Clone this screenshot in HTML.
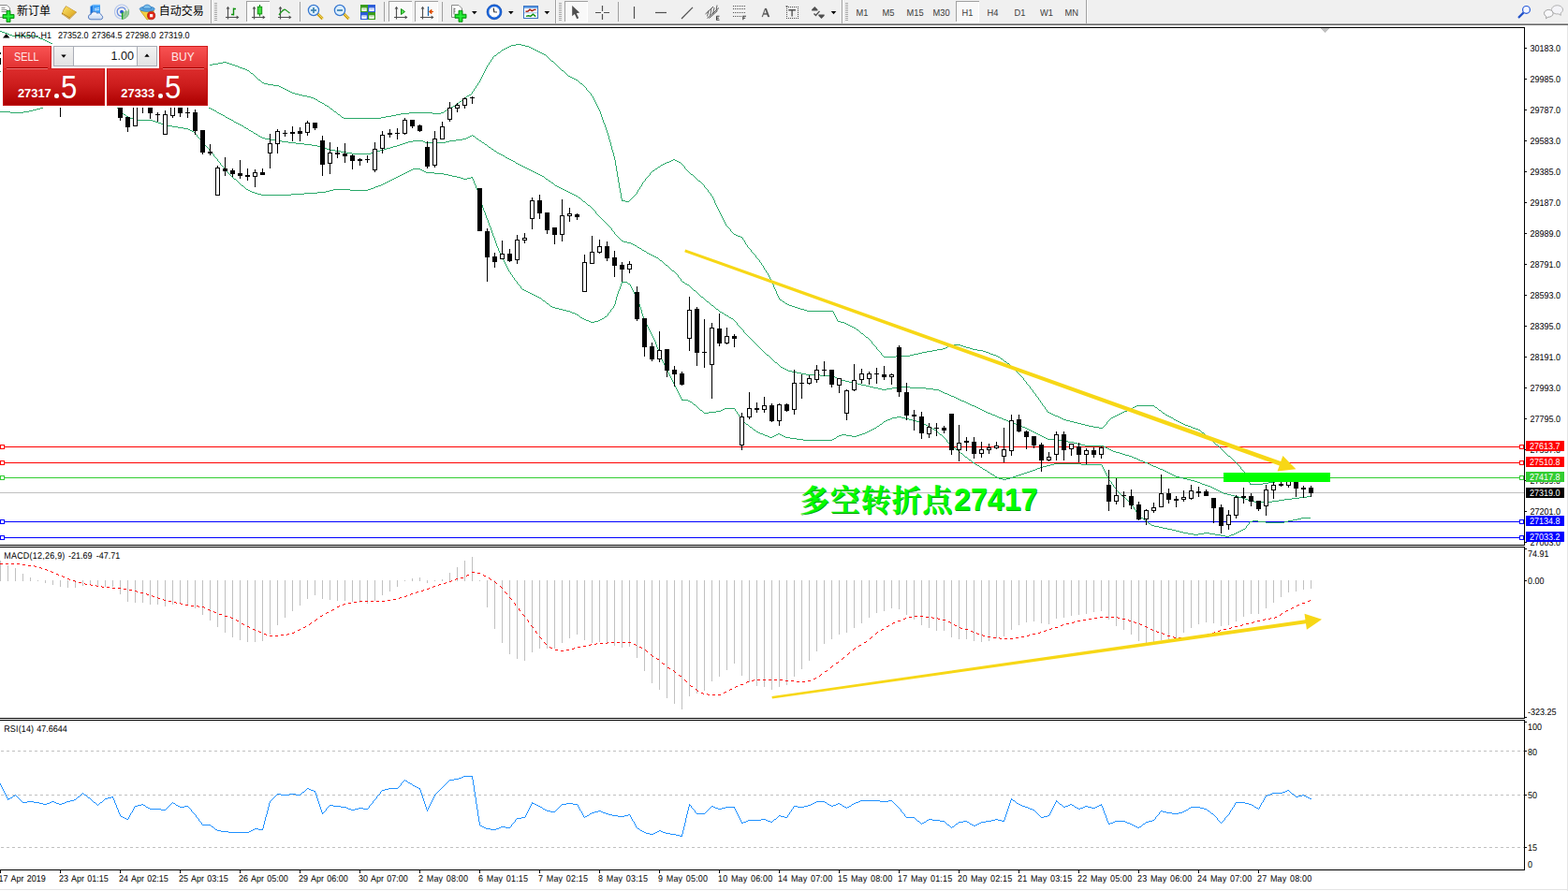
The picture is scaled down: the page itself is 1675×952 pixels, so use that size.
<!DOCTYPE html>
<html><head><meta charset="utf-8"><title>HK50 H1</title><style>
html,body{margin:0;padding:0}
body{width:1675px;height:952px;overflow:hidden;background:#fff;position:relative;font-family:"Liberation Sans",sans-serif;}
.t{position:absolute;white-space:nowrap;font-size:9px;line-height:11px;height:11px;color:#000;word-spacing:0.9px;transform:scaleY(1.1);transform-origin:0 50%;text-rendering:geometricPrecision}
.ax{left:1635px}
.ax2{left:1632px}
.tm{top:933px}
.pl{position:absolute;left:1630px;width:41px;height:11px;color:#fff;font-size:9px;line-height:11px;white-space:nowrap;}
.pl span{display:block;position:relative;top:1px;padding-left:4px;transform:scaleY(1.1);transform-origin:0 50%;text-rendering:geometricPrecision}
.per{position:absolute;top:7.3px;font-size:9.3px;line-height:14px;color:#3c3c3c;white-space:nowrap;transform:scaleY(1.1);transform-origin:0 50%;text-rendering:geometricPrecision}
#tbbg{position:absolute;left:0;top:0;width:1675px;height:25px;background:#f0f0f0}
#tbl0{position:absolute;left:0;top:24px;width:1675px;height:1px;background:#f4f4f4}
#tbl1{position:absolute;left:0;top:25px;width:1675px;height:1px;background:#a2a2a2}
#tbl2{position:absolute;left:0;top:26px;width:1675px;height:1px;background:#696969}
#redge{position:absolute;left:1674px;top:27px;width:1px;height:925px;background:#e6e6e6}
#bedge{position:absolute;left:0;top:950px;width:1675px;height:1px;background:#e4e4e4}
#panel{position:absolute;left:3px;top:49px;width:219px;height:64px;}
#panel div{position:absolute;box-sizing:border-box}
.tab{top:0;height:24px;width:52px;background:linear-gradient(#f85252,#e23232);border:1px solid #d01c1c;border-bottom:none;}
.tl{color:#ffe9e9;font-size:13.2px;line-height:16px;top:4px;transform-origin:0 0;transform:scaleX(0.82);white-space:nowrap}
.box{top:24px;height:40px;background:linear-gradient(#dc2c2c,#cc1c1c 45%,#ad0000);border:1px solid #c41010;border-top-color:#d42222}
.ul{height:2px;top:23px;background:linear-gradient(#a40000 50%,#f07878 50%)}
.sm{color:#fff;font-weight:bold;font-size:12.9px;line-height:12px;top:21px}
.bg{color:#fff;font-size:34.6px;line-height:30px;top:3px;transform-origin:0 0;transform:scaleX(0.9)}
.dot{width:4.6px;height:4.6px;border-radius:2.3px;background:#fff}
</style></head><body>
<div id="tbbg"></div><div id="tbl0"></div><div id="tbl1"></div><div id="tbl2"></div>
<svg id="tb" width="1675" height="27" viewBox="0 0 1675 27" style="position:absolute;left:0;top:0">
<path d="M-1 5.5H7.5L10.5 8.5V18.5H-1z" fill="#fff" stroke="#8c8c8c" stroke-width="1"/><path d="M1.5 8.5h4 M1.5 10.5h6 M1.5 12.5h6" stroke="#909090" stroke-width="1"/>
<path d="M7 11.5h4v4h4v4h-4v4h-4v-4h-4v-4h4z" fill="#10d020" stroke="#0a8a10" stroke-width="0.9"/><path d="M9 12.5v10 M4 17.5h10" stroke="#30f040" stroke-width="1.3"/>
<text x="18" y="15.8" font-size="12" fill="#000" font-family="'Liberation Sans','Noto Sans CJK SC',sans-serif">新订单</text>
<defs><linearGradient id="gbook" x1="0" y1="0" x2="1" y2="1"><stop offset="0" stop-color="#fde468"/><stop offset="1" stop-color="#d8a01c"/></linearGradient><linearGradient id="gcloud" x1="0" y1="0" x2="0" y2="1"><stop offset="0" stop-color="#ffffff"/><stop offset="1" stop-color="#c8d8f0"/></linearGradient></defs>
<path d="M70.5 6.3L82 13L74.2 20.8L65.9 15Q67.2 9.8 70.5 6.3z" fill="#a87010"/><path d="M70.8 6.7L81.2 12.8L74.5 18.7L66.7 13.9Q67.8 9.8 70.8 6.7z" fill="url(#gbook)"/><path d="M66.9 15.3L74.3 19.7L80.9 13.6" stroke="#f2dc90" stroke-width="0.7" fill="none"/>
<path d="M96.5 6.8L99.5 5.2V14.6L96.5 15.6z" fill="#1672dc"/><path d="M99.5 5.2H107V14.6H99.5z" fill="#3c9ef8"/><path d="M96.5 6.8L99.5 5.2H107" stroke="#7cc4ff" stroke-width="0.8" fill="none"/><path d="M101 9.4L106 8.6 M101 11L106 10.4" stroke="#d8ecff" stroke-width="0.9"/><path d="M97 20.8a2.7 2.7 0 0 1 0.2-5.4a3.5 3 0 0 1 6.6-1.2a3 2.8 0 0 1 4.4 2a2.4 2.4 0 0 1-0.5 4.6z" fill="url(#gcloud)" stroke="#4a74bc" stroke-width="0.9"/>
<path d="M136.6 8.8A7.6 7.6 0 1 0 130.3 20.2" fill="none" stroke="#b4c6ec" stroke-width="1.2"/><path d="M134.2 10.6A4.7 4.7 0 1 0 130.2 17.3" fill="none" stroke="#6a8ee0" stroke-width="1.3"/><path d="M130.3 12.8L137.7 11.2A7.8 7.8 0 0 1 130.5 20.6z" fill="#5cb45c" opacity="0.6"/><path d="M136.9 9.5A7.6 7.6 0 0 1 130.5 20.4 M134.4 11A4.7 4.7 0 0 1 130.5 17.5" fill="none" stroke="#78b884" stroke-width="1"/><circle cx="130" cy="12.7" r="1.9" fill="#2c58cc"/><path d="M130.6 13.2v7.4" stroke="#1ea41e" stroke-width="1.3"/>
<path d="M150 11.5h14.5l-4 8.5l-3.5 1z" fill="#f4d040" stroke="#c89a18" stroke-width="0.8"/><ellipse cx="157.2" cy="9.6" rx="8" ry="2.7" fill="#58a8e0" stroke="#2f78c0" stroke-width="0.8"/><path d="M152.8 9.3a4.4 4.2 0 0 1 8.8 0z" fill="#7cc0ec" stroke="#2f78c0" stroke-width="0.8"/><circle cx="161.6" cy="16.7" r="4.1" fill="#e02818" stroke="#a81808" stroke-width="0.7"/><rect x="160" y="15.1" width="3.2" height="3.2" fill="#fff"/>
<text x="169.8" y="15.8" font-size="12" fill="#000" font-family="'Liberation Sans','Noto Sans CJK SC',sans-serif">自动交易</text>
<rect x="225" y="0" width="1" height="25" fill="#a0a0a0"/><rect x="226" y="0" width="1" height="25" fill="#fff"/>
<rect x="229" y="3" width="3" height="1" fill="#a8a8a8"/><rect x="229" y="5" width="3" height="1" fill="#a8a8a8"/><rect x="229" y="7" width="3" height="1" fill="#a8a8a8"/><rect x="229" y="9" width="3" height="1" fill="#a8a8a8"/><rect x="229" y="11" width="3" height="1" fill="#a8a8a8"/><rect x="229" y="13" width="3" height="1" fill="#a8a8a8"/><rect x="229" y="15" width="3" height="1" fill="#a8a8a8"/><rect x="229" y="17" width="3" height="1" fill="#a8a8a8"/><rect x="229" y="19" width="3" height="1" fill="#a8a8a8"/><rect x="229" y="21" width="3" height="1" fill="#a8a8a8"/>
<path d="M243.5 20.5V8 M241 18.5H253.5" stroke="#505050" stroke-width="1.15" fill="none"/><path d="M243.5 6.8l-1.9 2.8h3.8z M255.5 18.5l-2.8-1.9v3.8z" fill="#505050"/>
<path d="M249.5 8.5v8 M249.5 9.5h2.5 M247 15.5h2.5" stroke="#109010" stroke-width="1.4" fill="none"/>
<rect x="263" y="1" width="25" height="23" fill="#f9f9f9"/><path d="M263.5 23V1.5H288" stroke="#a0a0a0" stroke-width="1" fill="none" shape-rendering="crispEdges"/><path d="M287.5 2V23.5H263" stroke="#fff" stroke-width="1" fill="none" shape-rendering="crispEdges"/>
<path d="M271.5 20.5V8 M269 18.5H281.5" stroke="#505050" stroke-width="1.15" fill="none"/><path d="M271.5 6.8l-1.9 2.8h3.8z M283.5 18.5l-2.8-1.9v3.8z" fill="#505050"/>
<path d="M277.5 5v12.5" stroke="#109010" stroke-width="1.2"/><rect x="275.3" y="7.3" width="4.4" height="7.6" fill="#40e040" stroke="#109010" stroke-width="1"/>
<path d="M299.5 20.5V8 M297 18.5H309.5" stroke="#505050" stroke-width="1.15" fill="none"/><path d="M299.5 6.8l-1.9 2.8h3.8z M311.5 18.5l-2.8-1.9v3.8z" fill="#505050"/>
<path d="M298 16q5-7 7-5.5t4.5 3.5" stroke="#209820" stroke-width="1.3" fill="none"/>
<rect x="320" y="2" width="1" height="21" fill="#a0a0a0"/>
<path d="M339 14.5l5.6 5.6" stroke="#cfa010" stroke-width="3"/>
<path d="M339.6 14.7l5.4 5.4" stroke="#f4e070" stroke-width="1"/>
<circle cx="335" cy="11" r="5.6" fill="#dcefff" stroke="#3878d0" stroke-width="1.3"/>
<path d="M332 11h6" stroke="#3a80b0" stroke-width="1.7"/>
<path d="M335 8v6" stroke="#3a80b0" stroke-width="1.7"/>
<path d="M367 14.5l5.6 5.6" stroke="#cfa010" stroke-width="3"/>
<path d="M367.6 14.7l5.4 5.4" stroke="#f4e070" stroke-width="1"/>
<circle cx="363" cy="11" r="5.6" fill="#dcefff" stroke="#3878d0" stroke-width="1.3"/>
<path d="M360 11h6" stroke="#3a80b0" stroke-width="1.7"/>
<rect x="385" y="5" width="8" height="8" fill="#3a9c1c"/><rect x="386.3" y="8.4" width="5.4" height="3.6" fill="#fff"/><rect x="387.3" y="9.4" width="3.4" height="0.9" fill="#3a9c1c" opacity="0.5"/>
<rect x="393" y="5" width="8" height="8" fill="#2c5cd8"/><rect x="394.3" y="8.4" width="5.4" height="3.6" fill="#fff"/><rect x="395.3" y="9.4" width="3.4" height="0.9" fill="#2c5cd8" opacity="0.5"/>
<rect x="385" y="13" width="8" height="8" fill="#2c5cd8"/><rect x="386.3" y="16.4" width="5.4" height="3.6" fill="#fff"/><rect x="387.3" y="17.4" width="3.4" height="0.9" fill="#2c5cd8" opacity="0.5"/>
<rect x="393" y="13" width="8" height="8" fill="#3a9c1c"/><rect x="394.3" y="16.4" width="5.4" height="3.6" fill="#fff"/><rect x="395.3" y="17.4" width="3.4" height="0.9" fill="#3a9c1c" opacity="0.5"/>
<rect x="410" y="2" width="1" height="21" fill="#a0a0a0"/>
<rect x="415" y="1" width="25" height="23" fill="#f9f9f9"/><path d="M415.5 23V1.5H440" stroke="#a0a0a0" stroke-width="1" fill="none" shape-rendering="crispEdges"/><path d="M439.5 2V23.5H415" stroke="#fff" stroke-width="1" fill="none" shape-rendering="crispEdges"/>
<path d="M423.5 20.5V8 M421 18.5H433.5" stroke="#505050" stroke-width="1.15" fill="none"/><path d="M423.5 6.8l-1.9 2.8h3.8z M435.5 18.5l-2.8-1.9v3.8z" fill="#505050"/>
<path d="M428.5 9.5v6l4-3z" fill="#50e050" stroke="#109010" stroke-width="1"/>
<rect x="443" y="1" width="25" height="23" fill="#f9f9f9"/><path d="M443.5 23V1.5H468" stroke="#a0a0a0" stroke-width="1" fill="none" shape-rendering="crispEdges"/><path d="M467.5 2V23.5H443" stroke="#fff" stroke-width="1" fill="none" shape-rendering="crispEdges"/>
<path d="M451.5 20.5V8 M449 18.5H461.5" stroke="#505050" stroke-width="1.15" fill="none"/><path d="M451.5 6.8l-1.9 2.8h3.8z M463.5 18.5l-2.8-1.9v3.8z" fill="#505050"/>
<path d="M457.5 7v10" stroke="#1868b0" stroke-width="1.3"/><path d="M463 12.5h-4 M461 10.3l-2.6 2.2l2.6 2.2z" stroke="#e05000" stroke-width="1" fill="#e05000"/>
<rect x="472" y="2" width="1" height="21" fill="#a0a0a0"/>
<path d="M482.5 5.5H490L493.5 9V18.5H482.5z" fill="#fff" stroke="#8c8c8c" stroke-width="1"/><path d="M485 8.5v7" stroke="#707070" stroke-width="1"/><path d="M485 9.5h1.5 M485 12h1.5" stroke="#707070"/>
<path d="M490 11.3h4v4h4v4h-4v4h-4v-4h-4v-4h4z" fill="#10d020" stroke="#0a8a10" stroke-width="0.9"/><path d="M492 12.3v10 M487 17.3h10" stroke="#30f040" stroke-width="1.3"/>
<path d="M504 12h5.6l-2.8 3.2z" fill="#000"/>
<circle cx="528" cy="12.8" r="6.9" fill="#fff" stroke="#1a66dc" stroke-width="2.4"/><circle cx="528" cy="12.8" r="8" fill="none" stroke="#0c3c98" stroke-width="0.5"/><path d="M527.2 8.6L527.8 12.8L531 13" stroke="#303030" stroke-width="1.2" fill="none"/><path d="M528 7v1 M528 17.6v1 M522.2 12.8h1 M532.8 12.8h1 M524 8.8l.7.7 M532 8.8l-.7.7 M524 16.8l.7-.7 M532 16.8l-.7-.7" stroke="#a0a8b8" stroke-width="0.8"/>
<path d="M543 12h5.6l-2.8 3.2z" fill="#000"/>
<rect x="559.5" y="6.5" width="15" height="13" fill="#fff" stroke="#3a74c4" stroke-width="1"/><rect x="560" y="7" width="14" height="1.8" fill="#5a9ae4"/><path d="M560 13.8h14" stroke="#8ab0e0" stroke-width="0.8"/><path d="M561.5 12.2l2.5-0.2l2-1.8l2.2 1.4l2.4-1.2h2" stroke="#a01808" stroke-width="1.4" fill="none"/><path d="M562 17.4l2.6-0.6l2.2 0.6l2.6-2.2l2.8 2.4" stroke="#109010" stroke-width="1.4" fill="none"/>
<path d="M581.5 12h5.6l-2.8 3.2z" fill="#000"/>
<rect x="593" y="0" width="1" height="25" fill="#a0a0a0"/><rect x="594" y="0" width="1" height="25" fill="#fff"/>
<rect x="597" y="3" width="3" height="1" fill="#a8a8a8"/><rect x="597" y="5" width="3" height="1" fill="#a8a8a8"/><rect x="597" y="7" width="3" height="1" fill="#a8a8a8"/><rect x="597" y="9" width="3" height="1" fill="#a8a8a8"/><rect x="597" y="11" width="3" height="1" fill="#a8a8a8"/><rect x="597" y="13" width="3" height="1" fill="#a8a8a8"/><rect x="597" y="15" width="3" height="1" fill="#a8a8a8"/><rect x="597" y="17" width="3" height="1" fill="#a8a8a8"/><rect x="597" y="19" width="3" height="1" fill="#a8a8a8"/><rect x="597" y="21" width="3" height="1" fill="#a8a8a8"/>
<rect x="603" y="1" width="25" height="23" fill="#f9f9f9"/><path d="M603.5 23V1.5H628" stroke="#a0a0a0" stroke-width="1" fill="none" shape-rendering="crispEdges"/><path d="M627.5 2V23.5H603" stroke="#fff" stroke-width="1" fill="none" shape-rendering="crispEdges"/>
<path d="M611.2 6V17.2L613.9 14.9L616.3 20.2L618.2 19.3L615.8 14.2L619.2 13.6z" fill="#505050"/>
<path d="M643.5 6v6 M643.5 15v6 M636 13.5h6 M645 13.5h6" stroke="#505050" stroke-width="1.2"/>
<rect x="660" y="2" width="1" height="21" fill="#a0a0a0"/>
<path d="M677.5 7v13" stroke="#505050" stroke-width="1.2"/>
<path d="M700 13.5h12" stroke="#505050" stroke-width="1.2"/>
<path d="M728 20L740 7.8" stroke="#505050" stroke-width="1.2"/>
<path d="M753.5 15L762 7 M755.5 19.5L768 8.5 M757.5 19.5L766.5 11.5" stroke="#505050" stroke-width="1" fill="none"/><path d="M757 11.5l-1.5 6 M760 9.5l-1.5 7 M763 8l-1.5 7 M766 5.5l-1 6" stroke="#505050" stroke-width="0.9"/><path d="M765.5 17.3v4h3 M765.5 17.3h3 M765.5 19.3h2.4" stroke="#404040" stroke-width="1.1" fill="none"/>
<path d="M783 6.5h13.5 M783 9.5h13.5 M783 13.5h13.5 M783 17.5h9" stroke="#505050" stroke-width="1" stroke-dasharray="1 1"/><path d="M793.8 21.3v-4h3.2 M793.8 19.3h2.4" stroke="#404040" stroke-width="1.1" fill="none"/>
<path d="M813.9 18L817.2 9h1.5L822 18h-1.7l-0.85-2.5h-3.9L814.7 18z M816 14.2h3l-1.5-4.2z" fill="#505050" fill-rule="evenodd" stroke="#505050" stroke-width="0.3"/>
<path d="M840 7h1v1h-1zM840 19h1v1h-1zM842 7h1v1h-1zM842 19h1v1h-1zM844 7h1v1h-1zM844 19h1v1h-1zM846 7h1v1h-1zM846 19h1v1h-1zM848 7h1v1h-1zM848 19h1v1h-1zM850 7h1v1h-1zM850 19h1v1h-1zM852 7h1v1h-1zM852 19h1v1h-1zM840 9h1v1h-1zM852 9h1v1h-1zM840 11h1v1h-1zM852 11h1v1h-1zM840 13h1v1h-1zM852 13h1v1h-1zM840 15h1v1h-1zM852 15h1v1h-1zM840 17h1v1h-1zM852 17h1v1h-1z" fill="#505050" shape-rendering="crispEdges"/>
<path d="M842.3 10.7h7.6 M846.1 10.7v6.9" stroke="#505050" stroke-width="1.35"/><rect x="839.5" y="6.2" width="2" height="1.2" fill="#505050"/>
<path d="M870.3 7l3.5 3.6h-7z M867.2 10.6h6.2v1h-6.2z" fill="#505050"/><path d="M869.5 14.5l2 2l4-4.6" stroke="#505050" stroke-width="1.4" fill="none"/><path d="M877.5 20l3.5-3.6h-7z M874.4 15.4h6.2v1h-6.2z" fill="#505050"/>
<path d="M887.7 12h5.6l-2.8 3.2z" fill="#000"/>
<rect x="899" y="0" width="1" height="25" fill="#a0a0a0"/><rect x="900" y="0" width="1" height="25" fill="#fff"/>
<rect x="903" y="3" width="3" height="1" fill="#a8a8a8"/><rect x="903" y="5" width="3" height="1" fill="#a8a8a8"/><rect x="903" y="7" width="3" height="1" fill="#a8a8a8"/><rect x="903" y="9" width="3" height="1" fill="#a8a8a8"/><rect x="903" y="11" width="3" height="1" fill="#a8a8a8"/><rect x="903" y="13" width="3" height="1" fill="#a8a8a8"/><rect x="903" y="15" width="3" height="1" fill="#a8a8a8"/><rect x="903" y="17" width="3" height="1" fill="#a8a8a8"/><rect x="903" y="19" width="3" height="1" fill="#a8a8a8"/><rect x="903" y="21" width="3" height="1" fill="#a8a8a8"/>
<rect x="1021" y="1" width="25" height="23" fill="#f9f9f9"/><path d="M1021.5 23V1.5H1046" stroke="#a0a0a0" stroke-width="1" fill="none" shape-rendering="crispEdges"/><path d="M1045.5 2V23.5H1021" stroke="#fff" stroke-width="1" fill="none" shape-rendering="crispEdges"/>
<rect x="1160" y="0" width="1" height="25" fill="#a0a0a0"/><rect x="1161" y="0" width="1" height="25" fill="#fff"/>
<path d="M1627.4 13.6L1622.6 18.4" stroke="#2352c8" stroke-width="2.2" stroke-linecap="round"/><circle cx="1630.5" cy="10.4" r="3.9" fill="#f4f6ff" stroke="#2458d8" stroke-width="1.2"/>
<path d="M1657.5 10.5a6 4.6 0 1 1 9.5 3.6l0.4 2.2l-2.6-1.4a6 4.6 0 0 1-7.3-4.4z" fill="#f4f4f8" stroke="#a8a8a8" stroke-width="0.9"/><path d="M1649.5 14.5a4.8 3.9 0 1 1 4.4 3.7l-2.4 1.6l0.3-2.2a4.8 3.9 0 0 1-2.3-3.1z" fill="#f8f8fa" stroke="#989898" stroke-width="0.9"/>
</svg>
<div class="per" style="left:914.5px">M1</div>
<div class="per" style="left:942.5px">M5</div>
<div class="per" style="left:968.5px">M15</div>
<div class="per" style="left:996.5px">M30</div>
<div class="per" style="left:1027.5px">H1</div>
<div class="per" style="left:1054.5px">H4</div>
<div class="per" style="left:1083.5px">D1</div>
<div class="per" style="left:1111px">W1</div>
<div class="per" style="left:1137.5px">MN</div>
<svg id="chart" width="1675" height="952" viewBox="0 0 1675 952" shape-rendering="crispEdges" style="position:absolute;left:0;top:0">
<rect x="0" y="477" width="1628" height="1" fill="#ff0000"/>
<rect x="0" y="494" width="1628" height="1" fill="#ff0000"/>
<rect x="0" y="510" width="1628" height="1" fill="#32cd32"/>
<rect x="0" y="526" width="1628" height="1" fill="#c0c0c0"/>
<rect x="0" y="557" width="1628" height="1" fill="#0000ff"/>
<rect x="0" y="574" width="1628" height="1" fill="#0000ff"/>
<rect x="0" y="475" width="5" height="5" fill="#ff0000"/><rect x="1" y="476" width="3" height="3" fill="#fff"/>
<rect x="1623" y="475" width="5" height="5" fill="#ff0000"/><rect x="1624" y="476" width="3" height="3" fill="#fff"/>
<rect x="0" y="492" width="5" height="5" fill="#ff0000"/><rect x="1" y="493" width="3" height="3" fill="#fff"/>
<rect x="1623" y="492" width="5" height="5" fill="#ff0000"/><rect x="1624" y="493" width="3" height="3" fill="#fff"/>
<rect x="0" y="508" width="5" height="5" fill="#32cd32"/><rect x="1" y="509" width="3" height="3" fill="#fff"/>
<rect x="1623" y="508" width="5" height="5" fill="#32cd32"/><rect x="1624" y="509" width="3" height="3" fill="#fff"/>
<rect x="0" y="555" width="5" height="5" fill="#0000ff"/><rect x="1" y="556" width="3" height="3" fill="#fff"/>
<rect x="1623" y="555" width="5" height="5" fill="#0000ff"/><rect x="1624" y="556" width="3" height="3" fill="#fff"/>
<rect x="0" y="572" width="5" height="5" fill="#0000ff"/><rect x="1" y="573" width="3" height="3" fill="#fff"/>
<rect x="1623" y="572" width="5" height="5" fill="#0000ff"/><rect x="1624" y="573" width="3" height="3" fill="#fff"/>
<path stroke="#c0c0c0" stroke-width="1" stroke-dasharray="3 3" d="M1 802.5 H1628"/>
<path stroke="#c0c0c0" stroke-width="1" stroke-dasharray="3 3" d="M1 849.5 H1628"/>
<path stroke="#c0c0c0" stroke-width="1" stroke-dasharray="3 3" d="M1 905.5 H1628"/>
<path fill="#28a868" d="M0 33h2v1h-2zM2 34h3v1h-3zM5 35h3v1h-3zM8 36h2v1h-2zM10 37h3v1h-3zM13 38h25v1h-25zM38 39h3v1h-3zM41 40h2v1h-2zM43 41h3v1h-3zM46 42h2v1h-2zM48 43h2v1h-2zM50 44h2v1h-2zM52 45h2v1h-2zM54 46h2v1h-2zM56 47h1v1h-1zM551 47h6v1h-6zM57 48h1v2h-1zM546 48h5v1h-5zM557 48h4v1h-4zM544 49h2v1h-2zM561 49h4v1h-4zM58 50h4v1h-4zM542 50h2v1h-2zM565 50h2v1h-2zM62 51h7v1h-7zM540 51h2v1h-2zM567 51h2v1h-2zM69 52h7v1h-7zM538 52h2v1h-2zM569 52h2v1h-2zM76 53h7v1h-7zM536 53h2v1h-2zM571 53h2v1h-2zM83 54h7v1h-7zM535 54h1v1h-1zM573 54h2v1h-2zM90 55h7v1h-7zM534 55h1v1h-1zM575 55h2v1h-2zM97 56h10v1h-10zM532 56h2v1h-2zM577 56h2v1h-2zM107 57h12v1h-12zM531 57h1v1h-1zM579 57h2v1h-2zM119 58h13v1h-13zM530 58h1v1h-1zM581 58h2v1h-2zM132 59h12v1h-12zM528 59h2v1h-2zM583 59h1v1h-1zM144 60h11v1h-11zM527 60h1v1h-1zM584 60h1v1h-1zM155 61h8v1h-8zM526 61h1v2h-1zM585 61h1v1h-1zM163 62h8v1h-8zM586 62h1v1h-1zM171 63h9v1h-9zM525 63h1v1h-1zM587 63h1v1h-1zM180 64h8v1h-8zM524 64h1v2h-1zM588 64h1v1h-1zM188 65h8v1h-8zM589 65h2v1h-2zM196 66h8v1h-8zM238 66h4v1h-4zM523 66h1v1h-1zM591 66h1v1h-1zM204 67h8v1h-8zM233 67h5v1h-5zM242 67h3v1h-3zM522 67h1v2h-1zM592 67h1v1h-1zM212 68h8v1h-8zM227 68h6v1h-6zM245 68h3v1h-3zM593 68h1v1h-1zM220 69h7v1h-7zM248 69h3v1h-3zM521 69h1v1h-1zM594 69h1v1h-1zM251 70h3v1h-3zM520 70h1v2h-1zM595 70h1v1h-1zM254 71h2v1h-2zM596 71h1v1h-1zM256 72h3v1h-3zM519 72h1v2h-1zM597 72h1v1h-1zM259 73h3v1h-3zM598 73h1v1h-1zM262 74h2v1h-2zM518 74h1v2h-1zM599 74h1v1h-1zM264 75h2v1h-2zM600 75h2v1h-2zM266 76h1v1h-1zM517 76h1v2h-1zM602 76h1v1h-1zM267 77h1v1h-1zM603 77h1v1h-1zM268 78h2v1h-2zM516 78h1v2h-1zM604 78h1v1h-1zM270 79h1v1h-1zM605 79h1v1h-1zM271 80h1v1h-1zM515 80h1v2h-1zM606 80h1v1h-1zM272 81h1v1h-1zM607 81h2v1h-2zM273 82h1v1h-1zM514 82h1v2h-1zM609 82h2v1h-2zM274 83h1v1h-1zM611 83h2v1h-2zM275 84h1v1h-1zM513 84h1v2h-1zM613 84h2v1h-2zM276 85h2v1h-2zM615 85h2v1h-2zM278 86h1v1h-1zM512 86h1v2h-1zM617 86h1v1h-1zM279 87h1v1h-1zM618 87h1v1h-1zM280 88h2v1h-2zM511 88h1v1h-1zM619 88h1v1h-1zM282 89h4v1h-4zM510 89h1v2h-1zM620 89h2v1h-2zM286 90h6v1h-6zM622 90h1v1h-1zM292 91h6v1h-6zM509 91h1v1h-1zM623 91h1v1h-1zM298 92h2v1h-2zM508 92h1v2h-1zM624 92h1v1h-1zM300 93h2v1h-2zM625 93h1v1h-1zM302 94h2v1h-2zM507 94h1v1h-1zM626 94h1v2h-1zM304 95h2v1h-2zM506 95h1v2h-1zM306 96h2v1h-2zM627 96h1v1h-1zM308 97h2v1h-2zM505 97h1v1h-1zM628 97h1v1h-1zM310 98h2v1h-2zM504 98h1v2h-1zM629 98h1v1h-1zM312 99h3v1h-3zM630 99h1v1h-1zM315 100h4v1h-4zM503 100h1v1h-1zM631 100h1v2h-1zM319 101h4v1h-4zM501 101h2v1h-2zM323 102h5v1h-5zM499 102h2v1h-2zM632 102h1v1h-1zM328 103h4v1h-4zM498 103h1v1h-1zM633 103h1v2h-1zM332 104h3v1h-3zM497 104h1v1h-1zM335 105h2v1h-2zM495 105h2v1h-2zM634 105h1v2h-1zM337 106h2v1h-2zM494 106h1v1h-1zM339 107h1v1h-1zM493 107h1v1h-1zM635 107h1v2h-1zM340 108h2v1h-2zM491 108h2v1h-2zM342 109h2v1h-2zM490 109h1v1h-1zM636 109h1v2h-1zM344 110h2v1h-2zM488 110h2v1h-2zM346 111h1v1h-1zM487 111h1v1h-1zM637 111h1v2h-1zM347 112h2v1h-2zM486 112h1v1h-1zM349 113h2v1h-2zM484 113h2v1h-2zM638 113h1v2h-1zM351 114h1v1h-1zM482 114h2v1h-2zM352 115h1v1h-1zM480 115h2v1h-2zM639 115h1v2h-1zM353 116h2v1h-2zM478 116h2v1h-2zM355 117h1v1h-1zM477 117h1v1h-1zM640 117h1v2h-1zM356 118h1v1h-1zM475 118h2v1h-2zM357 119h2v1h-2zM474 119h1v1h-1zM641 119h1v3h-1zM359 120h1v1h-1zM437 120h25v1h-25zM471 120h3v1h-3zM360 121h1v1h-1zM428 121h9v1h-9zM462 121h9v1h-9zM361 122h2v1h-2zM423 122h5v1h-5zM642 122h1v3h-1zM363 123h1v1h-1zM418 123h5v1h-5zM364 124h1v1h-1zM412 124h6v1h-6zM365 125h2v1h-2zM407 125h5v1h-5zM643 125h1v3h-1zM367 126h40v1h-40zM644 128h1v3h-1zM645 131h1v2h-1zM646 133h1v3h-1zM647 136h1v3h-1zM648 139h1v3h-1zM649 142h1v3h-1zM650 145h1v4h-1zM651 149h1v3h-1zM652 152h1v4h-1zM653 156h1v4h-1zM654 160h1v3h-1zM655 163h1v4h-1zM656 167h1v4h-1zM719 170h2v1h-2zM657 171h1v6h-1zM717 171h2v1h-2zM721 171h2v1h-2zM715 172h2v1h-2zM723 172h2v1h-2zM712 173h3v1h-3zM725 173h2v1h-2zM710 174h2v1h-2zM727 174h1v1h-1zM708 175h2v1h-2zM728 175h1v1h-1zM706 176h2v1h-2zM729 176h1v1h-1zM658 177h1v6h-1zM705 177h1v1h-1zM730 177h1v1h-1zM703 178h2v1h-2zM731 178h1v2h-1zM702 179h1v1h-1zM700 180h2v1h-2zM732 180h1v1h-1zM699 181h1v1h-1zM733 181h1v1h-1zM697 182h2v1h-2zM734 182h1v1h-1zM659 183h1v6h-1zM696 183h1v1h-1zM735 183h1v1h-1zM695 184h1v1h-1zM736 184h1v1h-1zM694 185h1v2h-1zM737 185h1v1h-1zM738 186h2v1h-2zM693 187h1v1h-1zM740 187h1v1h-1zM692 188h1v1h-1zM741 188h1v1h-1zM660 189h1v6h-1zM691 189h1v1h-1zM742 189h1v1h-1zM690 190h1v1h-1zM743 190h1v1h-1zM689 191h1v2h-1zM744 191h1v1h-1zM745 192h1v1h-1zM688 193h1v1h-1zM746 193h2v1h-2zM687 194h1v1h-1zM748 194h1v1h-1zM661 195h1v6h-1zM686 195h1v2h-1zM749 195h1v1h-1zM750 196h1v1h-1zM685 197h1v2h-1zM751 197h1v1h-1zM752 198h1v2h-1zM684 199h1v1h-1zM683 200h1v2h-1zM753 200h1v1h-1zM662 201h1v5h-1zM754 201h1v1h-1zM682 202h1v1h-1zM755 202h1v1h-1zM681 203h1v2h-1zM756 203h1v2h-1zM680 205h1v2h-1zM757 205h1v1h-1zM663 206h1v6h-1zM758 206h1v1h-1zM679 207h1v1h-1zM759 207h1v2h-1zM678 208h1v1h-1zM677 209h1v1h-1zM760 209h1v1h-1zM676 210h1v1h-1zM761 210h1v2h-1zM675 211h1v1h-1zM664 212h1v3h-1zM674 212h1v1h-1zM762 212h1v2h-1zM673 213h1v1h-1zM665 214h3v1h-3zM672 214h1v1h-1zM763 214h1v3h-1zM668 215h4v1h-4zM764 217h1v2h-1zM765 219h1v2h-1zM766 221h1v2h-1zM767 223h1v2h-1zM768 225h1v2h-1zM769 227h1v2h-1zM770 229h1v2h-1zM771 231h1v2h-1zM772 233h1v2h-1zM773 235h1v2h-1zM774 237h1v2h-1zM775 239h1v2h-1zM776 241h1v1h-1zM777 242h1v1h-1zM778 243h1v1h-1zM779 244h1v1h-1zM780 245h1v2h-1zM781 247h1v1h-1zM782 248h1v1h-1zM783 249h1v1h-1zM784 250h2v1h-2zM786 251h2v1h-2zM788 252h3v1h-3zM791 253h2v1h-2zM793 254h1v2h-1zM794 256h1v1h-1zM795 257h1v2h-1zM796 259h1v2h-1zM797 261h1v1h-1zM798 262h1v2h-1zM799 264h1v1h-1zM800 265h1v1h-1zM801 266h1v1h-1zM802 267h1v2h-1zM803 269h1v1h-1zM804 270h1v1h-1zM805 271h1v1h-1zM806 272h1v1h-1zM807 273h1v2h-1zM808 275h1v1h-1zM809 276h1v1h-1zM810 277h1v1h-1zM811 278h1v2h-1zM812 280h1v1h-1zM813 281h1v2h-1zM814 283h1v1h-1zM815 284h1v2h-1zM816 286h1v2h-1zM817 288h1v1h-1zM818 289h1v2h-1zM819 291h1v1h-1zM820 292h1v2h-1zM821 294h1v2h-1zM822 296h1v2h-1zM823 298h1v2h-1zM824 300h1v2h-1zM825 302h1v2h-1zM826 304h1v3h-1zM827 307h1v2h-1zM828 309h1v2h-1zM829 311h1v3h-1zM830 314h1v2h-1zM831 316h1v2h-1zM832 318h1v2h-1zM833 320h2v1h-2zM835 321h1v1h-1zM836 322h2v1h-2zM838 323h1v1h-1zM839 324h2v1h-2zM841 325h2v1h-2zM843 326h3v1h-3zM846 327h3v1h-3zM849 328h3v1h-3zM852 329h3v1h-3zM855 330h4v1h-4zM859 331h3v1h-3zM862 332h28v1h-28zM890 333h1v2h-1zM891 335h1v2h-1zM892 337h1v2h-1zM893 339h1v2h-1zM894 341h1v2h-1zM895 343h3v1h-3zM898 344h4v1h-4zM902 345h2v1h-2zM904 346h2v1h-2zM906 347h2v1h-2zM908 348h2v1h-2zM910 349h2v1h-2zM912 350h2v1h-2zM914 351h1v1h-1zM915 352h2v1h-2zM917 353h1v1h-1zM918 354h1v1h-1zM919 355h1v1h-1zM920 356h2v1h-2zM922 357h1v1h-1zM923 358h1v1h-1zM924 359h1v1h-1zM925 360h2v1h-2zM927 361h1v1h-1zM928 362h1v1h-1zM929 363h1v1h-1zM930 364h1v1h-1zM931 365h1v2h-1zM932 367h1v1h-1zM933 368h1v1h-1zM1019 368h7v1h-7zM934 369h1v1h-1zM1013 369h6v1h-6zM1026 369h3v1h-3zM935 370h1v1h-1zM1012 370h1v1h-1zM1029 370h3v1h-3zM936 371h1v2h-1zM1010 371h2v1h-2zM1032 371h4v1h-4zM1007 372h3v1h-3zM1036 372h3v1h-3zM937 373h1v1h-1zM1001 373h6v1h-6zM1039 373h5v1h-5zM938 374h1v1h-1zM996 374h5v1h-5zM1044 374h6v1h-6zM939 375h1v1h-1zM990 375h6v1h-6zM1050 375h3v1h-3zM940 376h1v1h-1zM985 376h5v1h-5zM1053 376h3v1h-3zM941 377h1v2h-1zM981 377h4v1h-4zM1056 377h2v1h-2zM976 378h5v1h-5zM1058 378h3v1h-3zM942 379h1v1h-1zM972 379h4v1h-4zM1061 379h3v1h-3zM943 380h1v1h-1zM957 380h15v1h-15zM1064 380h2v1h-2zM944 381h13v1h-13zM1066 381h2v1h-2zM1068 382h1v1h-1zM1069 383h2v1h-2zM1071 384h1v1h-1zM1072 385h1v1h-1zM1073 386h2v1h-2zM1075 387h1v1h-1zM1076 388h2v1h-2zM1078 389h1v1h-1zM1079 390h1v1h-1zM1080 391h1v1h-1zM1081 392h1v1h-1zM1082 393h1v1h-1zM1083 394h1v1h-1zM1084 395h1v1h-1zM1085 396h1v1h-1zM1086 397h1v1h-1zM1087 398h1v1h-1zM1088 399h1v1h-1zM1089 400h1v1h-1zM1090 401h1v1h-1zM1091 402h1v1h-1zM1092 403h1v1h-1zM1093 404h1v2h-1zM1094 406h1v1h-1zM1095 407h1v1h-1zM1096 408h1v2h-1zM1097 410h1v1h-1zM1098 411h1v1h-1zM1099 412h1v1h-1zM1100 413h1v2h-1zM1101 415h1v1h-1zM1102 416h1v1h-1zM1103 417h1v2h-1zM1104 419h1v1h-1zM1105 420h1v1h-1zM1106 421h1v2h-1zM1107 423h1v1h-1zM1108 424h1v1h-1zM1109 425h1v2h-1zM1110 427h1v1h-1zM1111 428h1v2h-1zM1112 430h1v1h-1zM1113 431h1v2h-1zM1114 433h1v1h-1zM1214 433h19v1h-19zM1115 434h1v1h-1zM1212 434h2v1h-2zM1233 434h1v1h-1zM1116 435h1v2h-1zM1210 435h2v1h-2zM1234 435h2v1h-2zM1208 436h2v1h-2zM1236 436h1v1h-1zM1117 437h1v1h-1zM1206 437h2v1h-2zM1237 437h1v1h-1zM1118 438h1v2h-1zM1204 438h2v1h-2zM1238 438h2v1h-2zM1201 439h3v1h-3zM1240 439h1v1h-1zM1119 440h2v1h-2zM1199 440h2v1h-2zM1241 440h1v1h-1zM1121 441h2v1h-2zM1197 441h2v1h-2zM1242 441h2v1h-2zM1123 442h2v1h-2zM1195 442h2v1h-2zM1244 442h1v1h-1zM1125 443h2v1h-2zM1193 443h2v1h-2zM1245 443h2v1h-2zM1127 444h3v1h-3zM1191 444h2v1h-2zM1247 444h2v1h-2zM1130 445h2v1h-2zM1189 445h2v1h-2zM1249 445h2v1h-2zM1132 446h2v1h-2zM1187 446h2v1h-2zM1251 446h2v1h-2zM1134 447h2v1h-2zM1186 447h1v1h-1zM1253 447h1v1h-1zM1136 448h3v1h-3zM1185 448h1v1h-1zM1254 448h2v1h-2zM1139 449h4v1h-4zM1184 449h1v1h-1zM1256 449h2v1h-2zM1143 450h4v1h-4zM1183 450h1v1h-1zM1258 450h2v1h-2zM1147 451h4v1h-4zM1182 451h1v2h-1zM1260 451h2v1h-2zM1151 452h4v1h-4zM1262 452h2v1h-2zM1155 453h4v1h-4zM1181 453h1v1h-1zM1264 453h2v1h-2zM1159 454h4v1h-4zM1180 454h1v1h-1zM1266 454h3v1h-3zM1163 455h5v1h-5zM1179 455h1v1h-1zM1269 455h3v1h-3zM1168 456h6v1h-6zM1178 456h1v1h-1zM1272 456h2v1h-2zM1174 457h4v1h-4zM1274 457h3v1h-3zM1277 458h3v1h-3zM1280 459h2v1h-2zM1282 460h1v1h-1zM1283 461h1v1h-1zM1284 462h2v1h-2zM1286 463h1v1h-1zM1287 464h1v1h-1zM1288 465h1v1h-1zM1289 466h1v1h-1zM1290 467h2v1h-2zM1292 468h1v1h-1zM1293 469h1v1h-1zM1294 470h1v1h-1zM1295 471h1v1h-1zM1296 472h1v1h-1zM1297 473h1v1h-1zM1298 474h1v1h-1zM1299 475h2v1h-2zM1301 476h1v1h-1zM1302 477h1v1h-1zM1303 478h1v1h-1zM1304 479h1v1h-1zM1305 480h1v1h-1zM1306 481h1v1h-1zM1307 482h1v1h-1zM1308 483h1v1h-1zM1309 484h1v1h-1zM1310 485h1v1h-1zM1311 486h1v1h-1zM1312 487h2v1h-2zM1314 488h1v1h-1zM1315 489h1v1h-1zM1316 490h1v1h-1zM1317 491h1v1h-1zM1318 492h1v1h-1zM1319 493h1v1h-1zM1320 494h1v1h-1zM1321 495h1v1h-1zM1322 496h1v1h-1zM1323 497h1v1h-1zM1324 498h1v1h-1zM1325 499h1v2h-1zM1326 501h1v1h-1zM1327 502h1v1h-1zM1328 503h1v1h-1zM1329 504h1v2h-1zM1330 506h1v2h-1zM1331 508h1v2h-1zM1332 510h1v2h-1zM1393 511h8v1h-8zM1333 512h1v2h-1zM1378 512h15v1h-15zM1368 513h10v1h-10zM1334 514h1v2h-1zM1362 514h6v1h-6zM1355 515h7v1h-7zM1335 516h1v2h-1zM1349 516h6v1h-6zM1336 517h13v1h-13z"/>
<path fill="#28a868" d="M0 76h4v1h-4zM4 77h8v1h-8zM12 78h7v1h-7zM19 79h8v1h-8zM27 80h7v1h-7zM34 81h8v1h-8zM42 82h7v1h-7zM49 83h8v1h-8zM57 84h8v1h-8zM65 85h8v1h-8zM73 86h9v1h-9zM82 87h8v1h-8zM90 88h9v1h-9zM99 89h8v1h-8zM107 90h9v1h-9zM116 91h8v1h-8zM124 92h8v1h-8zM132 93h6v1h-6zM138 94h7v1h-7zM145 95h6v1h-6zM151 96h7v1h-7zM158 97h6v1h-6zM164 98h7v1h-7zM171 99h6v1h-6zM177 100h5v1h-5zM182 101h3v1h-3zM185 102h3v1h-3zM188 103h3v1h-3zM191 104h3v1h-3zM194 105h3v1h-3zM197 106h3v1h-3zM200 107h2v1h-2zM202 108h3v1h-3zM205 109h3v1h-3zM208 110h3v1h-3zM211 111h3v1h-3zM214 112h3v1h-3zM217 113h3v1h-3zM220 114h3v1h-3zM223 115h2v1h-2zM225 116h2v1h-2zM227 117h2v1h-2zM229 118h2v1h-2zM231 119h1v1h-1zM232 120h2v1h-2zM234 121h2v1h-2zM236 122h2v1h-2zM238 123h2v1h-2zM240 124h1v1h-1zM241 125h2v1h-2zM243 126h2v1h-2zM245 127h2v1h-2zM247 128h2v1h-2zM249 129h1v1h-1zM250 130h2v1h-2zM252 131h2v1h-2zM254 132h2v1h-2zM256 133h2v1h-2zM258 134h2v1h-2zM260 135h1v1h-1zM261 136h2v1h-2zM263 137h2v1h-2zM265 138h1v1h-1zM266 139h2v1h-2zM268 140h2v1h-2zM270 141h1v1h-1zM271 142h2v1h-2zM273 143h2v1h-2zM275 144h1v1h-1zM504 144h1v1h-1zM276 145h2v1h-2zM502 145h2v1h-2zM505 145h2v1h-2zM278 146h2v1h-2zM500 146h2v1h-2zM507 146h1v1h-1zM280 147h3v1h-3zM498 147h2v1h-2zM508 147h1v1h-1zM283 148h6v1h-6zM494 148h4v1h-4zM509 148h2v1h-2zM289 149h6v1h-6zM487 149h7v1h-7zM511 149h1v1h-1zM295 150h6v1h-6zM441 150h11v1h-11zM480 150h7v1h-7zM512 150h2v1h-2zM301 151h7v1h-7zM436 151h5v1h-5zM452 151h2v1h-2zM476 151h4v1h-4zM514 151h1v1h-1zM308 152h8v1h-8zM433 152h3v1h-3zM454 152h22v1h-22zM515 152h2v1h-2zM316 153h9v1h-9zM430 153h3v1h-3zM517 153h1v1h-1zM325 154h8v1h-8zM427 154h3v1h-3zM518 154h2v1h-2zM333 155h6v1h-6zM424 155h3v1h-3zM520 155h1v1h-1zM339 156h4v1h-4zM420 156h4v1h-4zM521 156h1v1h-1zM343 157h3v1h-3zM417 157h3v1h-3zM522 157h2v1h-2zM346 158h3v1h-3zM413 158h4v1h-4zM524 158h1v1h-1zM349 159h4v1h-4zM410 159h3v1h-3zM525 159h2v1h-2zM353 160h5v1h-5zM406 160h4v1h-4zM527 160h1v1h-1zM358 161h6v1h-6zM403 161h3v1h-3zM528 161h2v1h-2zM364 162h6v1h-6zM400 162h3v1h-3zM530 162h1v1h-1zM370 163h6v1h-6zM396 163h4v1h-4zM531 163h2v1h-2zM376 164h20v1h-20zM533 164h2v1h-2zM535 165h2v1h-2zM537 166h2v1h-2zM539 167h1v1h-1zM540 168h2v1h-2zM542 169h2v1h-2zM544 170h2v1h-2zM546 171h2v1h-2zM548 172h2v1h-2zM550 173h1v1h-1zM551 174h2v1h-2zM553 175h2v1h-2zM555 176h2v1h-2zM557 177h2v1h-2zM559 178h2v1h-2zM561 179h2v1h-2zM563 180h2v1h-2zM565 181h2v1h-2zM567 182h2v1h-2zM569 183h2v1h-2zM571 184h2v1h-2zM573 185h2v1h-2zM575 186h2v1h-2zM577 187h2v1h-2zM579 188h2v1h-2zM581 189h1v1h-1zM582 190h1v1h-1zM583 191h2v1h-2zM585 192h1v1h-1zM586 193h2v1h-2zM588 194h1v1h-1zM589 195h2v1h-2zM591 196h1v1h-1zM592 197h1v1h-1zM593 198h2v1h-2zM595 199h2v1h-2zM597 200h2v1h-2zM599 201h2v1h-2zM601 202h2v1h-2zM603 203h2v1h-2zM605 204h2v1h-2zM607 205h2v1h-2zM609 206h2v1h-2zM611 207h2v1h-2zM613 208h2v1h-2zM615 209h2v1h-2zM617 210h1v1h-1zM618 211h2v1h-2zM620 212h1v1h-1zM621 213h1v1h-1zM622 214h1v1h-1zM623 215h2v1h-2zM625 216h1v1h-1zM626 217h1v1h-1zM627 218h1v1h-1zM628 219h2v1h-2zM630 220h1v1h-1zM631 221h1v1h-1zM632 222h1v1h-1zM633 223h1v1h-1zM634 224h1v1h-1zM635 225h1v1h-1zM636 226h1v2h-1zM637 228h1v1h-1zM638 229h1v1h-1zM639 230h1v1h-1zM640 231h1v1h-1zM641 232h1v1h-1zM642 233h1v1h-1zM643 234h1v1h-1zM644 235h1v1h-1zM645 236h1v1h-1zM646 237h1v1h-1zM647 238h1v1h-1zM648 239h1v1h-1zM649 240h1v1h-1zM650 241h1v1h-1zM651 242h1v1h-1zM652 243h1v1h-1zM653 244h1v2h-1zM654 246h1v1h-1zM655 247h1v1h-1zM656 248h1v2h-1zM657 250h1v1h-1zM658 251h1v1h-1zM659 252h1v1h-1zM660 253h1v1h-1zM661 254h1v1h-1zM662 255h1v1h-1zM663 256h1v1h-1zM664 257h2v1h-2zM666 258h4v1h-4zM670 259h4v1h-4zM674 260h2v1h-2zM676 261h2v1h-2zM678 262h2v1h-2zM680 263h1v1h-1zM681 264h2v1h-2zM683 265h2v1h-2zM685 266h1v1h-1zM686 267h2v1h-2zM688 268h2v1h-2zM690 269h1v1h-1zM691 270h2v1h-2zM693 271h2v1h-2zM695 272h2v1h-2zM697 273h2v1h-2zM699 274h2v1h-2zM701 275h2v1h-2zM703 276h1v1h-1zM704 277h1v1h-1zM705 278h2v1h-2zM707 279h1v1h-1zM708 280h1v1h-1zM709 281h1v1h-1zM710 282h1v1h-1zM711 283h2v1h-2zM713 284h1v1h-1zM714 285h1v1h-1zM715 286h1v1h-1zM716 287h1v1h-1zM717 288h1v1h-1zM718 289h2v1h-2zM720 290h1v1h-1zM721 291h1v1h-1zM722 292h1v1h-1zM723 293h1v1h-1zM724 294h1v2h-1zM725 296h1v1h-1zM726 297h1v1h-1zM727 298h1v2h-1zM728 300h1v1h-1zM729 301h2v1h-2zM731 302h1v1h-1zM732 303h2v1h-2zM734 304h2v1h-2zM736 305h1v1h-1zM737 306h1v1h-1zM738 307h1v1h-1zM739 308h1v1h-1zM740 309h1v1h-1zM741 310h2v1h-2zM743 311h1v1h-1zM744 312h1v1h-1zM745 313h1v1h-1zM746 314h1v1h-1zM747 315h1v1h-1zM748 316h1v1h-1zM749 317h2v1h-2zM751 318h1v1h-1zM752 319h1v1h-1zM753 320h1v1h-1zM754 321h1v1h-1zM755 322h2v1h-2zM757 323h1v1h-1zM758 324h1v1h-1zM759 325h1v1h-1zM760 326h2v1h-2zM762 327h1v1h-1zM763 328h1v1h-1zM764 329h1v1h-1zM765 330h2v1h-2zM767 331h1v1h-1zM768 332h1v1h-1zM769 333h2v1h-2zM771 334h2v1h-2zM773 335h1v1h-1zM774 336h2v1h-2zM776 337h2v1h-2zM778 338h1v1h-1zM779 339h2v1h-2zM781 340h2v1h-2zM783 341h1v1h-1zM784 342h1v1h-1zM785 343h1v1h-1zM786 344h1v1h-1zM787 345h1v2h-1zM788 347h1v1h-1zM789 348h1v1h-1zM790 349h1v1h-1zM791 350h1v1h-1zM792 351h1v1h-1zM793 352h1v1h-1zM794 353h1v2h-1zM795 355h1v1h-1zM796 356h1v1h-1zM797 357h1v1h-1zM798 358h1v1h-1zM799 359h1v1h-1zM800 360h1v1h-1zM801 361h1v1h-1zM802 362h1v1h-1zM803 363h1v1h-1zM804 364h1v1h-1zM805 365h1v1h-1zM806 366h1v1h-1zM807 367h1v1h-1zM808 368h1v1h-1zM809 369h1v1h-1zM810 370h1v1h-1zM811 371h1v1h-1zM812 372h1v1h-1zM813 373h1v1h-1zM814 374h1v1h-1zM815 375h1v1h-1zM816 376h1v1h-1zM817 377h1v1h-1zM818 378h1v1h-1zM819 379h2v1h-2zM821 380h1v1h-1zM822 381h1v1h-1zM823 382h1v1h-1zM824 383h1v1h-1zM825 384h1v1h-1zM826 385h1v1h-1zM827 386h1v1h-1zM828 387h2v1h-2zM830 388h1v1h-1zM831 389h1v1h-1zM832 390h1v1h-1zM833 391h1v1h-1zM834 392h2v1h-2zM836 393h2v1h-2zM838 394h2v1h-2zM840 395h2v1h-2zM842 396h4v1h-4zM846 397h5v1h-5zM851 398h5v1h-5zM856 399h5v1h-5zM861 400h15v1h-15zM876 401h14v1h-14zM890 402h2v1h-2zM892 403h2v1h-2zM894 404h2v1h-2zM896 405h3v1h-3zM899 406h4v1h-4zM903 407h4v1h-4zM907 408h5v1h-5zM912 409h4v1h-4zM916 410h4v1h-4zM920 411h5v1h-5zM925 412h4v1h-4zM929 413h4v1h-4zM958 413h14v1h-14zM933 414h5v1h-5zM953 414h5v1h-5zM972 414h17v1h-17zM938 415h4v1h-4zM947 415h6v1h-6zM989 415h8v1h-8zM942 416h5v1h-5zM997 416h6v1h-6zM1003 417h2v1h-2zM1005 418h2v1h-2zM1007 419h2v1h-2zM1009 420h3v1h-3zM1012 421h2v1h-2zM1014 422h2v1h-2zM1016 423h3v1h-3zM1019 424h2v1h-2zM1021 425h2v1h-2zM1023 426h2v1h-2zM1025 427h2v1h-2zM1027 428h3v1h-3zM1030 429h2v1h-2zM1032 430h2v1h-2zM1034 431h2v1h-2zM1036 432h2v1h-2zM1038 433h3v1h-3zM1041 434h2v1h-2zM1043 435h2v1h-2zM1045 436h2v1h-2zM1047 437h2v1h-2zM1049 438h2v1h-2zM1051 439h2v1h-2zM1053 440h2v1h-2zM1055 441h3v1h-3zM1058 442h2v1h-2zM1060 443h3v1h-3zM1063 444h2v1h-2zM1065 445h2v1h-2zM1067 446h3v1h-3zM1070 447h2v1h-2zM1072 448h3v1h-3zM1075 449h2v1h-2zM1077 450h3v1h-3zM1080 451h2v1h-2zM1082 452h3v1h-3zM1085 453h2v1h-2zM1087 454h3v1h-3zM1090 455h2v1h-2zM1092 456h3v1h-3zM1095 457h2v1h-2zM1097 458h2v1h-2zM1099 459h2v1h-2zM1101 460h2v1h-2zM1103 461h2v1h-2zM1105 462h2v1h-2zM1107 463h2v1h-2zM1109 464h2v1h-2zM1111 465h2v1h-2zM1113 466h2v1h-2zM1115 467h2v1h-2zM1117 468h2v1h-2zM1119 469h7v1h-7zM1126 470h9v1h-9zM1135 471h6v1h-6zM1141 472h6v1h-6zM1147 473h4v1h-4zM1151 474h4v1h-4zM1155 475h4v1h-4zM1159 476h20v1h-20zM1179 477h2v1h-2zM1181 478h2v1h-2zM1183 479h2v1h-2zM1185 480h2v1h-2zM1187 481h2v1h-2zM1189 482h3v1h-3zM1192 483h4v1h-4zM1196 484h3v1h-3zM1199 485h3v1h-3zM1202 486h4v1h-4zM1206 487h3v1h-3zM1209 488h2v1h-2zM1211 489h3v1h-3zM1214 490h2v1h-2zM1216 491h2v1h-2zM1218 492h3v1h-3zM1221 493h2v1h-2zM1223 494h3v1h-3zM1226 495h2v1h-2zM1228 496h2v1h-2zM1230 497h2v1h-2zM1232 498h3v1h-3zM1235 499h2v1h-2zM1237 500h2v1h-2zM1239 501h3v1h-3zM1242 502h2v1h-2zM1244 503h2v1h-2zM1246 504h2v1h-2zM1248 505h2v1h-2zM1250 506h2v1h-2zM1252 507h2v1h-2zM1254 508h2v1h-2zM1256 509h4v1h-4zM1260 510h4v1h-4zM1264 511h4v1h-4zM1268 512h4v1h-4zM1272 513h4v1h-4zM1276 514h3v1h-3zM1279 515h3v1h-3zM1282 516h2v1h-2zM1284 517h3v1h-3zM1287 518h3v1h-3zM1290 519h3v1h-3zM1293 520h2v1h-2zM1295 521h2v1h-2zM1297 522h2v1h-2zM1299 523h2v1h-2zM1301 524h2v1h-2zM1303 525h2v1h-2zM1305 526h2v1h-2zM1307 527h4v1h-4zM1311 528h4v1h-4zM1315 529h4v1h-4zM1319 530h4v1h-4zM1396 530h5v1h-5zM1323 531h4v1h-4zM1388 531h8v1h-8zM1327 532h3v1h-3zM1380 532h8v1h-8zM1330 533h3v1h-3zM1372 533h8v1h-8zM1333 534h4v1h-4zM1366 534h6v1h-6zM1337 535h3v1h-3zM1359 535h7v1h-7zM1340 536h19v1h-19z"/>
<path fill="#28a868" d="M91 106h12v1h-12zM71 107h20v1h-20zM103 107h5v1h-5zM59 108h12v1h-12zM108 108h5v1h-5zM57 109h2v1h-2zM113 109h5v1h-5zM55 110h2v1h-2zM118 110h3v1h-3zM53 111h2v1h-2zM121 111h1v1h-1zM50 112h3v1h-3zM122 112h1v1h-1zM48 113h2v1h-2zM123 113h1v1h-1zM46 114h2v1h-2zM124 114h1v1h-1zM43 115h3v1h-3zM125 115h1v1h-1zM39 116h4v1h-4zM126 116h1v1h-1zM35 117h4v1h-4zM127 117h1v1h-1zM31 118h4v1h-4zM128 118h1v1h-1zM0 119h11v1h-11zM25 119h6v1h-6zM129 119h1v1h-1zM11 120h14v1h-14zM130 120h1v1h-1zM131 121h1v1h-1zM132 122h2v1h-2zM134 123h1v1h-1zM135 124h2v1h-2zM137 125h2v1h-2zM139 126h3v1h-3zM142 127h4v1h-4zM146 128h17v1h-17zM163 129h3v1h-3zM166 130h3v1h-3zM169 131h3v1h-3zM172 132h3v1h-3zM175 133h4v1h-4zM179 134h5v1h-5zM184 135h6v1h-6zM190 136h6v1h-6zM196 137h5v1h-5zM201 138h2v1h-2zM203 139h2v1h-2zM205 140h2v1h-2zM207 141h1v1h-1zM208 142h1v1h-1zM209 143h1v1h-1zM210 144h1v2h-1zM211 146h1v1h-1zM212 147h1v1h-1zM213 148h1v1h-1zM214 149h1v1h-1zM215 150h1v1h-1zM216 151h1v2h-1zM217 153h1v1h-1zM218 154h1v1h-1zM219 155h1v1h-1zM220 156h1v1h-1zM221 157h1v1h-1zM222 158h1v1h-1zM223 159h1v2h-1zM224 161h1v1h-1zM225 162h1v1h-1zM226 163h1v1h-1zM227 164h1v1h-1zM228 165h1v2h-1zM229 167h1v1h-1zM230 168h1v1h-1zM231 169h1v1h-1zM232 170h1v2h-1zM233 172h1v1h-1zM234 173h1v1h-1zM235 174h1v2h-1zM236 176h1v1h-1zM237 177h1v1h-1zM238 178h1v1h-1zM239 179h1v1h-1zM240 180h1v1h-1zM441 180h8v1h-8zM241 181h1v1h-1zM439 181h2v1h-2zM449 181h2v1h-2zM242 182h1v2h-1zM437 182h2v1h-2zM451 182h2v1h-2zM435 183h2v1h-2zM453 183h2v1h-2zM243 184h1v1h-1zM433 184h2v1h-2zM455 184h9v1h-9zM244 185h1v1h-1zM431 185h2v1h-2zM464 185h10v1h-10zM245 186h1v1h-1zM429 186h2v1h-2zM474 186h5v1h-5zM246 187h1v1h-1zM427 187h2v1h-2zM479 187h4v1h-4zM247 188h1v1h-1zM425 188h2v1h-2zM483 188h5v1h-5zM248 189h1v1h-1zM423 189h2v1h-2zM488 189h4v1h-4zM503 189h2v1h-2zM249 190h1v1h-1zM421 190h2v1h-2zM492 190h3v1h-3zM499 190h4v1h-4zM504 190h1v1h-1zM250 191h2v1h-2zM419 191h2v1h-2zM495 191h4v1h-4zM505 191h1v2h-1zM252 192h1v1h-1zM417 192h2v1h-2zM253 193h1v1h-1zM415 193h2v1h-2zM506 193h1v3h-1zM254 194h1v1h-1zM413 194h2v1h-2zM255 195h1v1h-1zM411 195h2v1h-2zM256 196h1v1h-1zM409 196h2v1h-2zM507 196h1v2h-1zM257 197h1v1h-1zM407 197h2v1h-2zM258 198h2v1h-2zM404 198h3v1h-3zM508 198h1v3h-1zM260 199h1v1h-1zM401 199h3v1h-3zM261 200h1v1h-1zM399 200h2v1h-2zM262 201h1v1h-1zM396 201h3v1h-3zM509 201h1v2h-1zM263 202h2v1h-2zM356 202h18v1h-18zM393 202h3v1h-3zM265 203h2v1h-2zM352 203h4v1h-4zM374 203h19v1h-19zM510 203h1v3h-1zM267 204h2v1h-2zM348 204h4v1h-4zM269 205h3v1h-3zM339 205h9v1h-9zM272 206h3v1h-3zM325 206h14v1h-14zM511 206h1v3h-1zM275 207h4v1h-4zM311 207h14v1h-14zM279 208h32v1h-32zM512 209h1v3h-1zM513 212h1v4h-1zM514 216h1v3h-1zM515 219h1v3h-1zM516 222h1v3h-1zM517 225h1v2h-1zM518 227h1v3h-1zM519 230h1v3h-1zM520 233h1v2h-1zM521 235h1v3h-1zM522 238h1v3h-1zM523 241h1v2h-1zM524 243h1v3h-1zM525 246h1v3h-1zM526 249h1v3h-1zM527 252h1v2h-1zM528 254h1v3h-1zM529 257h1v3h-1zM530 260h1v3h-1zM531 263h1v2h-1zM532 265h1v3h-1zM533 268h1v2h-1zM534 270h1v2h-1zM535 272h1v2h-1zM536 274h1v2h-1zM537 276h1v2h-1zM538 278h1v2h-1zM539 280h1v2h-1zM540 282h1v2h-1zM541 284h1v2h-1zM542 286h1v2h-1zM543 288h1v2h-1zM544 290h1v1h-1zM545 291h1v2h-1zM546 293h1v1h-1zM547 294h1v2h-1zM548 296h1v1h-1zM549 297h1v2h-1zM550 299h1v1h-1zM551 300h1v1h-1zM552 301h1v2h-1zM664 301h6v1h-6zM664 302h1v1h-1zM670 302h1v1h-1zM553 303h1v1h-1zM663 303h1v3h-1zM671 303h2v1h-2zM554 304h1v1h-1zM673 304h1v2h-1zM555 305h1v1h-1zM556 306h1v2h-1zM662 306h1v3h-1zM674 306h1v2h-1zM557 308h1v1h-1zM675 308h1v2h-1zM558 309h2v1h-2zM661 309h1v2h-1zM560 310h2v1h-2zM676 310h1v2h-1zM562 311h2v1h-2zM660 311h1v3h-1zM564 312h2v1h-2zM677 312h1v2h-1zM566 313h2v1h-2zM568 314h2v1h-2zM659 314h1v3h-1zM678 314h1v3h-1zM570 315h2v1h-2zM572 316h2v1h-2zM574 317h2v1h-2zM658 317h1v4h-1zM679 317h1v2h-1zM576 318h2v1h-2zM578 319h1v1h-1zM680 319h1v2h-1zM579 320h1v1h-1zM580 321h2v1h-2zM657 321h1v4h-1zM681 321h1v2h-1zM582 322h1v1h-1zM583 323h1v1h-1zM682 323h1v2h-1zM584 324h2v1h-2zM586 325h1v1h-1zM656 325h1v2h-1zM683 325h1v3h-1zM587 326h1v1h-1zM588 327h2v1h-2zM655 327h1v2h-1zM590 328h3v1h-3zM684 328h1v3h-1zM593 329h4v1h-4zM654 329h1v1h-1zM597 330h4v1h-4zM653 330h1v1h-1zM601 331h4v1h-4zM652 331h1v2h-1zM685 331h1v4h-1zM605 332h4v1h-4zM609 333h2v1h-2zM651 333h1v1h-1zM611 334h3v1h-3zM650 334h1v1h-1zM614 335h2v1h-2zM649 335h1v2h-1zM686 335h1v3h-1zM616 336h2v1h-2zM618 337h1v1h-1zM648 337h1v1h-1zM619 338h1v1h-1zM646 338h2v1h-2zM687 338h1v3h-1zM620 339h2v1h-2zM645 339h1v1h-1zM622 340h2v1h-2zM643 340h2v1h-2zM624 341h2v1h-2zM641 341h2v1h-2zM688 341h1v2h-1zM626 342h3v1h-3zM639 342h2v1h-2zM629 343h2v1h-2zM635 343h4v1h-4zM689 343h1v2h-1zM631 344h4v1h-4zM690 345h1v2h-1zM691 347h1v2h-1zM692 349h1v2h-1zM693 351h1v2h-1zM694 353h1v2h-1zM695 355h1v2h-1zM696 357h1v2h-1zM697 359h1v2h-1zM698 361h1v2h-1zM699 363h1v2h-1zM700 365h1v3h-1zM701 368h1v3h-1zM702 371h1v2h-1zM703 373h1v3h-1zM704 376h1v3h-1zM705 379h1v2h-1zM706 381h1v3h-1zM707 384h1v2h-1zM708 386h1v2h-1zM709 388h1v2h-1zM710 390h1v2h-1zM711 392h1v2h-1zM712 394h1v2h-1zM713 396h1v2h-1zM714 398h1v2h-1zM715 400h1v2h-1zM716 402h1v2h-1zM717 404h1v2h-1zM718 406h1v2h-1zM719 408h1v2h-1zM720 410h1v2h-1zM721 412h1v2h-1zM722 414h1v2h-1zM723 416h1v2h-1zM724 418h1v2h-1zM725 420h1v2h-1zM726 422h1v2h-1zM727 424h1v2h-1zM728 426h1v2h-1zM729 427h6v1h-6zM735 428h2v1h-2zM737 429h2v1h-2zM739 430h1v1h-1zM740 431h1v1h-1zM741 432h2v1h-2zM743 433h1v1h-1zM744 434h1v1h-1zM745 435h1v1h-1zM746 436h1v1h-1zM774 436h11v1h-11zM747 437h1v1h-1zM772 437h2v1h-2zM785 437h1v2h-1zM748 438h2v1h-2zM770 438h2v1h-2zM750 439h1v1h-1zM765 439h5v1h-5zM786 439h1v1h-1zM751 440h1v1h-1zM757 440h8v1h-8zM787 440h1v2h-1zM752 441h5v1h-5zM788 442h1v1h-1zM789 443h1v2h-1zM790 445h1v1h-1zM958 445h5v1h-5zM791 446h1v1h-1zM953 446h5v1h-5zM963 446h4v1h-4zM792 447h1v1h-1zM951 447h2v1h-2zM967 447h4v1h-4zM793 448h1v2h-1zM948 448h3v1h-3zM971 448h4v1h-4zM946 449h2v1h-2zM975 449h4v1h-4zM794 450h1v1h-1zM944 450h2v1h-2zM979 450h3v1h-3zM795 451h1v1h-1zM943 451h1v1h-1zM982 451h2v1h-2zM796 452h1v1h-1zM942 452h1v1h-1zM984 452h3v1h-3zM797 453h2v1h-2zM940 453h2v1h-2zM987 453h2v1h-2zM799 454h1v1h-1zM939 454h1v1h-1zM989 454h2v1h-2zM800 455h1v1h-1zM937 455h2v1h-2zM991 455h2v1h-2zM801 456h2v1h-2zM936 456h1v1h-1zM993 456h1v1h-1zM803 457h1v1h-1zM934 457h2v1h-2zM994 457h2v1h-2zM804 458h1v1h-1zM932 458h2v1h-2zM996 458h2v1h-2zM805 459h2v1h-2zM930 459h2v1h-2zM998 459h2v1h-2zM807 460h1v1h-1zM928 460h2v1h-2zM1000 460h1v1h-1zM808 461h2v1h-2zM926 461h2v1h-2zM1001 461h1v1h-1zM810 462h2v1h-2zM924 462h2v1h-2zM1002 462h1v1h-1zM812 463h3v1h-3zM831 463h2v1h-2zM921 463h3v1h-3zM1003 463h1v1h-1zM815 464h2v1h-2zM829 464h2v1h-2zM833 464h2v1h-2zM899 464h5v1h-5zM918 464h3v1h-3zM1004 464h2v1h-2zM817 465h3v1h-3zM827 465h2v1h-2zM835 465h2v1h-2zM896 465h3v1h-3zM904 465h6v1h-6zM915 465h3v1h-3zM1006 465h1v1h-1zM820 466h2v1h-2zM825 466h2v1h-2zM837 466h2v1h-2zM894 466h2v1h-2zM910 466h5v1h-5zM1007 466h1v1h-1zM822 467h3v1h-3zM839 467h5v1h-5zM893 467h1v1h-1zM1008 467h1v1h-1zM844 468h7v1h-7zM891 468h2v1h-2zM1009 468h1v1h-1zM851 469h7v1h-7zM889 469h2v1h-2zM1010 469h1v1h-1zM858 470h31v1h-31zM1011 470h1v2h-1zM1012 472h1v1h-1zM1013 473h1v1h-1zM1014 474h1v1h-1zM1015 475h2v1h-2zM1017 476h1v1h-1zM1018 477h1v1h-1zM1019 478h1v1h-1zM1020 479h1v1h-1zM1021 480h2v1h-2zM1023 481h1v1h-1zM1024 482h1v1h-1zM1025 483h1v1h-1zM1026 484h2v1h-2zM1028 485h1v1h-1zM1029 486h1v1h-1zM1030 487h1v1h-1zM1031 488h2v1h-2zM1033 489h1v1h-1zM1034 490h1v1h-1zM1035 491h2v1h-2zM1037 492h1v1h-1zM1038 493h1v1h-1zM1039 494h2v1h-2zM1041 495h1v1h-1zM1126 495h29v1h-29zM1042 496h2v1h-2zM1122 496h4v1h-4zM1155 496h22v1h-22zM1044 497h2v1h-2zM1118 497h4v1h-4zM1177 497h1v2h-1zM1046 498h1v1h-1zM1114 498h4v1h-4zM1047 499h2v1h-2zM1111 499h3v1h-3zM1178 499h1v2h-1zM1049 500h1v1h-1zM1108 500h3v1h-3zM1050 501h2v1h-2zM1106 501h2v1h-2zM1179 501h1v2h-1zM1052 502h2v1h-2zM1103 502h3v1h-3zM1054 503h1v1h-1zM1100 503h3v1h-3zM1180 503h1v2h-1zM1055 504h2v1h-2zM1097 504h3v1h-3zM1057 505h1v1h-1zM1094 505h3v1h-3zM1181 505h1v2h-1zM1058 506h2v1h-2zM1091 506h3v1h-3zM1060 507h2v1h-2zM1088 507h3v1h-3zM1182 507h1v2h-1zM1062 508h1v1h-1zM1085 508h3v1h-3zM1063 509h2v1h-2zM1082 509h3v1h-3zM1183 509h1v2h-1zM1065 510h2v1h-2zM1079 510h3v1h-3zM1067 511h4v1h-4zM1075 511h4v1h-4zM1184 511h1v2h-1zM1071 512h4v1h-4zM1185 513h1v1h-1zM1186 514h1v1h-1zM1187 515h1v2h-1zM1188 517h1v1h-1zM1189 518h1v2h-1zM1190 520h1v1h-1zM1191 521h1v1h-1zM1192 522h1v2h-1zM1193 524h1v1h-1zM1194 525h1v1h-1zM1195 526h1v1h-1zM1196 527h1v1h-1zM1197 528h1v1h-1zM1198 529h1v1h-1zM1199 530h1v1h-1zM1200 531h2v1h-2zM1202 532h1v1h-1zM1203 533h1v1h-1zM1204 534h1v1h-1zM1205 535h1v1h-1zM1206 536h1v1h-1zM1207 537h1v1h-1zM1208 538h1v2h-1zM1209 540h1v1h-1zM1210 541h1v1h-1zM1211 542h1v2h-1zM1212 544h1v1h-1zM1213 545h1v2h-1zM1214 547h1v1h-1zM1215 548h1v1h-1zM1216 549h1v2h-1zM1217 551h1v1h-1zM1218 552h1v1h-1zM1219 553h2v1h-2zM1390 553h10v1h-10zM1221 554h1v1h-1zM1386 554h4v1h-4zM1222 555h1v1h-1zM1381 555h5v1h-5zM1223 556h2v1h-2zM1338 556h6v1h-6zM1376 556h5v1h-5zM1225 557h1v1h-1zM1335 557h3v1h-3zM1344 557h8v1h-8zM1372 557h4v1h-4zM1226 558h1v1h-1zM1334 558h1v2h-1zM1352 558h20v1h-20zM1227 559h2v1h-2zM1229 560h1v1h-1zM1333 560h1v1h-1zM1230 561h3v1h-3zM1332 561h1v1h-1zM1233 562h5v1h-5zM1331 562h1v2h-1zM1238 563h4v1h-4zM1242 564h5v1h-5zM1330 564h1v1h-1zM1247 565h5v1h-5zM1328 565h2v1h-2zM1252 566h4v1h-4zM1326 566h2v1h-2zM1256 567h4v1h-4zM1324 567h2v1h-2zM1260 568h4v1h-4zM1322 568h2v1h-2zM1264 569h5v1h-5zM1286 569h6v1h-6zM1320 569h2v1h-2zM1269 570h6v1h-6zM1280 570h6v1h-6zM1292 570h6v1h-6zM1318 570h2v1h-2zM1275 571h5v1h-5zM1298 571h6v1h-6zM1315 571h3v1h-3zM1304 572h5v1h-5zM1313 572h2v1h-2zM1309 573h4v1h-4z"/>
<path fill="#000" d="M64 100h1v25h-1zM128 105h1v24h-1zM126 105h5v21h-5zM136 125h1v16h-1zM134 125h5v11h-5zM144 105h1v30h-1zM142 105h5v30h-5zM152 105h1v16h-1zM160 105h1v22h-1zM158 105h5v16h-5zM168 120h1v10h-1zM166 122h5v1h-5zM176 118h1v26h-1zM174 122h5v22h-5zM184 105h1v21h-1zM182 105h5v19h-5zM192 105h1v20h-1zM190 105h5v16h-5zM200 105h1v21h-1zM198 120h5v1h-5zM208 117h1v27h-1zM206 120h5v20h-5zM216 139h1v26h-1zM214 139h5v24h-5zM224 154h1v12h-1zM222 162h5v2h-5zM232 177h1v32h-1zM230 179h5v30h-5zM240 168h1v20h-1zM238 180h5v3h-5zM248 180h1v9h-1zM246 182h5v4h-5zM256 171h1v20h-1zM254 185h5v3h-5zM264 180h1v13h-1zM262 187h5v2h-5zM272 181h1v19h-1zM270 184h5v5h-5zM280 180h1v7h-1zM278 184h5v3h-5zM288 143h1v37h-1zM286 153h5v11h-5zM296 138h1v26h-1zM294 140h5v14h-5zM304 139h1v7h-1zM302 142h5v1h-5zM312 135h1v16h-1zM310 141h5v2h-5zM320 136h1v15h-1zM318 140h5v3h-5zM328 129h1v16h-1zM326 131h5v11h-5zM336 131h1v8h-1zM334 131h5v6h-5zM344 145h1v43h-1zM342 150h5v26h-5zM352 152h1v34h-1zM350 163h5v12h-5zM360 157h1v12h-1zM358 163h5v2h-5zM368 153h1v21h-1zM366 164h5v3h-5zM376 165h1v16h-1zM374 166h5v6h-5zM384 169h1v8h-1zM382 170h5v2h-5zM392 166h1v8h-1zM390 170h5v1h-5zM400 152h1v32h-1zM398 159h5v23h-5zM408 140h1v24h-1zM406 144h5v15h-5zM416 138h1v9h-1zM414 142h5v2h-5zM424 137h1v12h-1zM422 142h5v1h-5zM432 126h1v18h-1zM430 128h5v15h-5zM440 128h1v9h-1zM438 128h5v7h-5zM448 133h1v8h-1zM446 134h5v6h-5zM456 151h1v29h-1zM454 157h5v21h-5zM464 140h1v39h-1zM462 148h5v29h-5zM472 130h1v19h-1zM470 135h5v14h-5zM480 109h1v21h-1zM478 115h5v13h-5zM488 110h1v10h-1zM486 112h5v4h-5zM496 104h1v12h-1zM494 105h5v8h-5zM504 103h1v8h-1zM502 104h5v1h-5zM512 201h1v46h-1zM510 201h5v46h-5zM520 244h1v57h-1zM518 247h5v28h-5zM528 270h1v16h-1zM526 274h5v6h-5zM536 257h1v20h-1zM534 271h5v6h-5zM544 266h1v14h-1zM542 271h5v8h-5zM552 251h1v31h-1zM550 256h5v22h-5zM560 249h1v11h-1zM558 254h5v3h-5zM568 211h1v34h-1zM566 214h5v20h-5zM576 208h1v26h-1zM574 214h5v14h-5zM584 227h1v23h-1zM582 227h5v19h-5zM592 243h1v18h-1zM590 243h5v8h-5zM600 213h1v45h-1zM598 230h5v21h-5zM608 222h1v15h-1zM606 228h5v3h-5zM616 228h1v7h-1zM614 229h5v3h-5zM624 272h1v40h-1zM622 280h5v32h-5zM632 252h1v30h-1zM630 269h5v13h-5zM640 256h1v15h-1zM638 263h5v7h-5zM648 258h1v21h-1zM646 263h5v13h-5zM656 268h1v28h-1zM654 275h5v9h-5zM664 280h1v21h-1zM662 283h5v5h-5zM672 279h1v13h-1zM670 282h5v6h-5zM680 306h1v37h-1zM678 312h5v29h-5zM688 340h1v41h-1zM686 340h5v31h-5zM696 366h1v20h-1zM694 370h5v14h-5zM704 354h1v33h-1zM702 374h5v10h-5zM712 373h1v30h-1zM710 373h5v23h-5zM720 391h1v22h-1zM718 395h5v5h-5zM728 397h1v15h-1zM726 399h5v12h-5zM736 317h1v58h-1zM734 331h5v31h-5zM744 328h1v63h-1zM742 330h5v47h-5zM752 341h1v52h-1zM750 376h5v1h-5zM760 345h1v81h-1zM758 350h5v40h-5zM768 335h1v35h-1zM766 351h5v16h-5zM776 350h1v18h-1zM774 359h5v8h-5zM784 357h1v14h-1zM782 359h5v3h-5zM792 441h1v40h-1zM790 445h5v31h-5zM800 419h1v29h-1zM798 436h5v10h-5zM808 430h1v11h-1zM806 436h5v2h-5zM816 424h1v17h-1zM814 433h5v5h-5zM824 431h1v20h-1zM822 433h5v17h-5zM832 431h1v24h-1zM830 432h5v18h-5zM840 431h1v9h-1zM838 432h5v7h-5zM848 395h1v48h-1zM846 409h5v29h-5zM856 400h1v26h-1zM854 409h5v1h-5zM864 401h1v10h-1zM862 404h5v6h-5zM872 390h1v19h-1zM870 395h5v11h-5zM880 386h1v16h-1zM878 395h5v1h-5zM888 395h1v19h-1zM886 395h5v16h-5zM896 404h1v16h-1zM894 404h5v8h-5zM904 416h1v33h-1zM902 417h5v25h-5zM912 389h1v29h-1zM910 406h5v11h-5zM920 394h1v16h-1zM918 399h5v7h-5zM928 397h1v14h-1zM926 399h5v6h-5zM936 393h1v17h-1zM934 399h5v1h-5zM944 391h1v15h-1zM942 400h5v3h-5zM952 399h1v12h-1zM950 400h5v3h-5zM960 369h1v55h-1zM958 371h5v48h-5zM968 409h1v40h-1zM966 419h5v25h-5zM976 438h1v22h-1zM974 443h5v2h-5zM984 440h1v29h-1zM982 445h5v18h-5zM992 452h1v16h-1zM990 456h5v8h-5zM1000 452h1v14h-1zM998 457h5v1h-5zM1008 455h1v8h-1zM1006 457h5v3h-5zM1016 442h1v44h-1zM1014 442h5v39h-5zM1024 454h1v39h-1zM1022 473h5v8h-5zM1032 467h1v15h-1zM1030 471h5v2h-5zM1040 467h1v23h-1zM1038 472h5v13h-5zM1048 472h1v17h-1zM1046 480h5v5h-5zM1056 474h1v11h-1zM1054 478h5v3h-5zM1064 472h1v8h-1zM1062 476h5v3h-5zM1072 457h1v37h-1zM1070 480h5v8h-5zM1080 443h1v44h-1zM1078 449h5v33h-5zM1088 443h1v19h-1zM1086 448h5v13h-5zM1096 460h1v20h-1zM1094 461h5v6h-5zM1104 466h1v13h-1zM1102 466h5v10h-5zM1112 473h1v31h-1zM1110 475h5v17h-5zM1120 483h1v10h-1zM1118 488h5v4h-5zM1128 461h1v31h-1zM1126 464h5v22h-5zM1136 461h1v31h-1zM1134 464h5v17h-5zM1144 474h1v13h-1zM1142 474h5v6h-5zM1152 473h1v21h-1zM1150 477h5v9h-5zM1160 479h1v17h-1zM1158 481h5v5h-5zM1168 478h1v11h-1zM1166 481h5v5h-5zM1176 477h1v13h-1zM1174 478h5v8h-5zM1184 502h1v44h-1zM1182 518h5v18h-5zM1192 511h1v28h-1zM1190 529h5v7h-5zM1200 525h1v17h-1zM1198 529h5v1h-5zM1208 523h1v21h-1zM1206 530h5v10h-5zM1216 536h1v20h-1zM1214 539h5v16h-5zM1224 544h1v17h-1zM1222 545h5v10h-5zM1232 537h1v11h-1zM1230 542h5v4h-5zM1240 507h1v35h-1zM1238 527h5v15h-5zM1248 522h1v16h-1zM1246 527h5v7h-5zM1256 530h1v12h-1zM1254 533h5v2h-5zM1264 524h1v12h-1zM1262 531h5v3h-5zM1272 518h1v16h-1zM1270 524h5v9h-5zM1280 520h1v11h-1zM1278 525h5v2h-5zM1288 523h1v7h-1zM1286 525h5v5h-5zM1296 532h1v27h-1zM1294 532h5v11h-5zM1304 539h1v31h-1zM1302 542h5v20h-5zM1312 545h1v21h-1zM1310 550h5v11h-5zM1320 529h1v25h-1zM1318 531h5v20h-5zM1328 521h1v17h-1zM1326 530h5v2h-5zM1336 527h1v14h-1zM1334 530h5v6h-5zM1344 535h1v11h-1zM1342 535h5v9h-5zM1352 518h1v33h-1zM1350 523h5v18h-5zM1360 512h1v21h-1zM1358 518h5v6h-5zM1368 512h1v8h-1zM1366 517h5v2h-5zM1376 508h1v13h-1zM1374 508h5v11h-5zM1384 508h1v23h-1zM1382 508h5v14h-5zM1392 519h1v13h-1zM1390 521h5v2h-5zM1400 519h1v12h-1zM1398 521h5v6h-5z"/>
<path fill="#fff" d="M143 106h3v28h-3zM175 123h3v20h-3zM183 106h3v17h-3zM231 180h3v28h-3zM271 185h3v3h-3zM287 154h3v9h-3zM295 141h3v12h-3zM327 132h3v9h-3zM351 164h3v10h-3zM399 160h3v21h-3zM407 145h3v13h-3zM431 129h3v13h-3zM463 149h3v27h-3zM471 136h3v12h-3zM479 116h3v11h-3zM487 113h3v2h-3zM495 106h3v6h-3zM535 272h3v4h-3zM551 257h3v20h-3zM559 255h3v1h-3zM567 215h3v18h-3zM599 231h3v19h-3zM607 229h3v1h-3zM623 281h3v30h-3zM631 270h3v11h-3zM639 264h3v5h-3zM671 283h3v4h-3zM703 375h3v8h-3zM735 332h3v29h-3zM759 351h3v38h-3zM775 360h3v6h-3zM791 446h3v29h-3zM799 437h3v8h-3zM815 434h3v3h-3zM831 433h3v16h-3zM847 410h3v27h-3zM863 405h3v4h-3zM871 396h3v9h-3zM895 405h3v6h-3zM903 418h3v23h-3zM911 407h3v9h-3zM919 400h3v5h-3zM927 400h3v4h-3zM951 401h3v1h-3zM991 457h3v6h-3zM1023 474h3v6h-3zM1047 481h3v3h-3zM1055 479h3v1h-3zM1063 477h3v1h-3zM1071 481h3v6h-3zM1079 450h3v31h-3zM1119 489h3v2h-3zM1127 465h3v20h-3zM1143 475h3v4h-3zM1159 482h3v3h-3zM1175 479h3v6h-3zM1191 530h3v5h-3zM1223 546h3v8h-3zM1231 543h3v2h-3zM1239 528h3v13h-3zM1263 532h3v1h-3zM1271 525h3v7h-3zM1311 551h3v9h-3zM1319 532h3v18h-3zM1351 524h3v16h-3zM1359 519h3v4h-3zM1375 509h3v9h-3z"/>
<path fill="#c0c0c0" d="M0 599h1v22h-1zM8 604h1v17h-1zM16 607h1v14h-1zM24 613h1v8h-1zM32 617h1v4h-1zM40 620h1v1h-1zM48 620h1v3h-1zM56 620h1v5h-1zM64 620h1v7h-1zM72 620h1v8h-1zM80 620h1v8h-1zM88 620h1v6h-1zM96 620h1v5h-1zM104 620h1v6h-1zM112 620h1v7h-1zM120 620h1v7h-1zM128 620h1v15h-1zM136 620h1v23h-1zM144 620h1v24h-1zM152 620h1v24h-1zM160 620h1v26h-1zM168 620h1v26h-1zM176 620h1v28h-1zM184 620h1v26h-1zM192 620h1v25h-1zM200 620h1v26h-1zM208 620h1v30h-1zM216 620h1v37h-1zM224 620h1v43h-1zM232 620h1v50h-1zM240 620h1v56h-1zM248 620h1v61h-1zM256 620h1v64h-1zM264 620h1v66h-1zM272 620h1v66h-1zM280 620h1v65h-1zM288 620h1v58h-1zM296 620h1v48h-1zM304 620h1v40h-1zM312 620h1v33h-1zM320 620h1v27h-1zM328 620h1v20h-1zM336 620h1v16h-1zM344 620h1v20h-1zM352 620h1v21h-1zM360 620h1v22h-1zM368 620h1v22h-1zM376 620h1v23h-1zM384 620h1v24h-1zM392 620h1v25h-1zM400 620h1v22h-1zM408 620h1v16h-1zM416 620h1v12h-1zM424 620h1v7h-1zM432 620h1v1h-1zM440 618h1v3h-1zM448 617h1v4h-1zM456 620h1v3h-1zM464 620h1v1h-1zM472 619h1v2h-1zM480 612h1v9h-1zM488 606h1v15h-1zM496 599h1v22h-1zM504 595h1v26h-1zM512 620h1v1h-1zM520 620h1v29h-1zM528 620h1v52h-1zM536 620h1v67h-1zM544 620h1v79h-1zM552 620h1v84h-1zM560 620h1v86h-1zM568 620h1v77h-1zM576 620h1v73h-1zM584 620h1v73h-1zM592 620h1v73h-1zM600 620h1v67h-1zM608 620h1v62h-1zM616 620h1v58h-1zM624 620h1v64h-1zM632 620h1v67h-1zM640 620h1v66h-1zM648 620h1v67h-1zM656 620h1v70h-1zM664 620h1v72h-1zM672 620h1v71h-1zM680 620h1v83h-1zM688 620h1v97h-1zM696 620h1v110h-1zM704 620h1v117h-1zM712 620h1v126h-1zM720 620h1v132h-1zM728 620h1v138h-1zM736 620h1v124h-1zM744 620h1v121h-1zM752 620h1v118h-1zM760 620h1v108h-1zM768 620h1v103h-1zM776 620h1v96h-1zM784 620h1v89h-1zM792 620h1v102h-1zM800 620h1v109h-1zM808 620h1v113h-1zM816 620h1v114h-1zM824 620h1v117h-1zM832 620h1v114h-1zM840 620h1v112h-1zM848 620h1v103h-1zM856 620h1v95h-1zM864 620h1v86h-1zM872 620h1v76h-1zM880 620h1v68h-1zM888 620h1v63h-1zM896 620h1v58h-1zM904 620h1v56h-1zM912 620h1v51h-1zM920 620h1v46h-1zM928 620h1v40h-1zM936 620h1v35h-1zM944 620h1v33h-1zM952 620h1v30h-1zM960 620h1v31h-1zM968 620h1v37h-1zM976 620h1v42h-1zM984 620h1v48h-1zM992 620h1v51h-1zM1000 620h1v54h-1zM1008 620h1v54h-1zM1016 620h1v61h-1zM1024 620h1v63h-1zM1032 620h1v63h-1zM1040 620h1v65h-1zM1048 620h1v66h-1zM1056 620h1v65h-1zM1064 620h1v62h-1zM1072 620h1v60h-1zM1080 620h1v53h-1zM1088 620h1v48h-1zM1096 620h1v45h-1zM1104 620h1v44h-1zM1112 620h1v46h-1zM1120 620h1v47h-1zM1128 620h1v41h-1zM1136 620h1v40h-1zM1144 620h1v38h-1zM1152 620h1v37h-1zM1160 620h1v36h-1zM1168 620h1v34h-1zM1176 620h1v33h-1zM1184 620h1v42h-1zM1192 620h1v49h-1zM1200 620h1v53h-1zM1208 620h1v58h-1zM1216 620h1v65h-1zM1224 620h1v67h-1zM1232 620h1v66h-1zM1240 620h1v64h-1zM1248 620h1v63h-1zM1256 620h1v62h-1zM1264 620h1v56h-1zM1272 620h1v51h-1zM1280 620h1v47h-1zM1288 620h1v45h-1zM1296 620h1v46h-1zM1304 620h1v49h-1zM1312 620h1v48h-1zM1320 620h1v44h-1zM1328 620h1v39h-1zM1336 620h1v36h-1zM1344 620h1v36h-1zM1352 620h1v30h-1zM1360 620h1v24h-1zM1368 620h1v18h-1zM1376 620h1v13h-1zM1384 620h1v12h-1zM1392 620h1v10h-1zM1400 620h1v9h-1z"/>
<path fill="#ff0000" d="M0 602h1v1h-1zM1 602h1v1h-1zM2 602h1v1h-1zM6 602h1v1h-1zM7 602h1v1h-1zM8 602h1v1h-1zM12 602h1v1h-1zM13 602h1v1h-1zM14 602h1v1h-1zM18 602h1v1h-1zM19 602h1v1h-1zM20 602h1v1h-1zM24 603h1v1h-1zM25 603h1v1h-1zM26 603h1v1h-1zM30 604h1v1h-1zM31 604h1v1h-1zM32 604h1v1h-1zM36 604h1v1h-1zM37 605h1v1h-1zM38 605h1v1h-1zM42 606h1v1h-1zM43 606h1v1h-1zM44 607h1v1h-1zM48 608h1v1h-1zM49 608h1v1h-1zM50 609h1v1h-1zM54 610h1v1h-1zM55 611h1v1h-1zM56 611h1v1h-1zM60 613h1v1h-1zM61 613h1v1h-1zM62 614h1v1h-1zM66 615h1v1h-1zM67 616h1v1h-1zM68 616h1v1h-1zM72 618h1v1h-1zM73 618h1v1h-1zM74 619h1v1h-1zM78 620h1v1h-1zM79 620h1v1h-1zM80 621h1v1h-1zM84 622h1v1h-1zM85 622h1v1h-1zM86 622h1v1h-1zM90 623h1v1h-1zM91 624h1v1h-1zM92 624h1v1h-1zM96 624h1v1h-1zM97 625h1v1h-1zM98 625h1v1h-1zM102 625h1v1h-1zM103 626h1v1h-1zM104 626h1v1h-1zM108 626h1v1h-1zM109 627h1v1h-1zM110 627h1v1h-1zM114 627h1v1h-1zM115 627h1v1h-1zM116 627h1v1h-1zM120 628h1v1h-1zM121 628h1v1h-1zM122 628h1v1h-1zM126 628h1v1h-1zM127 628h1v1h-1zM128 628h1v1h-1zM132 629h1v1h-1zM133 629h1v1h-1zM134 629h1v1h-1zM138 630h1v1h-1zM139 630h1v1h-1zM140 630h1v1h-1zM144 631h1v1h-1zM145 631h1v1h-1zM146 632h1v1h-1zM150 633h1v1h-1zM151 633h1v1h-1zM152 633h1v1h-1zM156 634h1v1h-1zM157 635h1v1h-1zM158 635h1v1h-1zM162 636h1v1h-1zM163 637h1v1h-1zM164 637h1v1h-1zM168 638h1v1h-1zM169 639h1v1h-1zM170 639h1v1h-1zM174 640h1v1h-1zM175 641h1v1h-1zM176 641h1v1h-1zM180 642h1v1h-1zM181 642h1v1h-1zM182 642h1v1h-1zM186 643h1v1h-1zM187 643h1v1h-1zM188 644h1v1h-1zM192 644h1v1h-1zM193 645h1v1h-1zM194 645h1v1h-1zM198 646h1v1h-1zM199 646h1v1h-1zM200 646h1v1h-1zM204 647h1v1h-1zM205 647h1v1h-1zM206 647h1v1h-1zM210 647h1v1h-1zM211 647h1v1h-1zM212 648h1v1h-1zM216 648h1v1h-1zM217 648h1v1h-1zM218 649h1v1h-1zM222 651h1v1h-1zM223 651h1v1h-1zM224 652h1v1h-1zM228 653h1v1h-1zM229 654h1v1h-1zM230 654h1v1h-1zM234 656h1v1h-1zM235 656h1v1h-1zM236 656h1v1h-1zM240 658h1v1h-1zM241 658h1v1h-1zM242 658h1v1h-1zM246 659h1v1h-1zM247 660h1v1h-1zM248 660h1v1h-1zM252 662h1v1h-1zM253 663h1v1h-1zM254 663h1v1h-1zM258 666h1v1h-1zM259 666h1v1h-1zM260 667h1v1h-1zM264 669h1v1h-1zM265 669h1v1h-1zM266 670h1v1h-1zM270 672h1v1h-1zM271 672h1v1h-1zM272 673h1v1h-1zM276 674h1v1h-1zM277 675h1v1h-1zM278 675h1v1h-1zM282 677h1v1h-1zM283 677h1v1h-1zM284 678h1v1h-1zM288 679h1v1h-1zM289 679h1v1h-1zM290 679h1v1h-1zM294 679h1v1h-1zM295 679h1v1h-1zM296 679h1v1h-1zM300 678h1v1h-1zM301 678h1v1h-1zM302 678h1v1h-1zM306 678h1v1h-1zM307 677h1v1h-1zM308 677h1v1h-1zM312 676h1v1h-1zM313 676h1v1h-1zM314 675h1v1h-1zM318 673h1v1h-1zM319 673h1v1h-1zM320 672h1v1h-1zM324 670h1v1h-1zM325 670h1v1h-1zM326 669h1v1h-1zM330 667h1v1h-1zM331 666h1v1h-1zM332 665h1v1h-1zM336 663h1v1h-1zM337 662h1v1h-1zM338 661h1v1h-1zM342 658h1v1h-1zM343 658h1v1h-1zM344 657h1v1h-1zM348 655h1v1h-1zM349 654h1v1h-1zM350 654h1v1h-1zM354 652h1v1h-1zM355 651h1v1h-1zM356 651h1v1h-1zM360 648h1v1h-1zM361 648h1v1h-1zM362 647h1v1h-1zM366 646h1v1h-1zM367 645h1v1h-1zM368 645h1v1h-1zM372 644h1v1h-1zM373 644h1v1h-1zM374 644h1v1h-1zM378 643h1v1h-1zM379 643h1v1h-1zM380 643h1v1h-1zM384 642h1v1h-1zM385 642h1v1h-1zM386 642h1v1h-1zM390 642h1v1h-1zM391 642h1v1h-1zM392 642h1v1h-1zM396 642h1v1h-1zM397 642h1v1h-1zM398 642h1v1h-1zM402 642h1v1h-1zM403 642h1v1h-1zM404 642h1v1h-1zM408 642h1v1h-1zM409 642h1v1h-1zM410 642h1v1h-1zM414 641h1v1h-1zM415 641h1v1h-1zM416 641h1v1h-1zM420 640h1v1h-1zM421 640h1v1h-1zM422 640h1v1h-1zM426 639h1v1h-1zM427 638h1v1h-1zM428 638h1v1h-1zM432 637h1v1h-1zM433 637h1v1h-1zM434 636h1v1h-1zM438 635h1v1h-1zM439 634h1v1h-1zM440 634h1v1h-1zM444 633h1v1h-1zM445 632h1v1h-1zM446 632h1v1h-1zM450 631h1v1h-1zM451 631h1v1h-1zM452 630h1v1h-1zM456 629h1v1h-1zM457 629h1v1h-1zM458 628h1v1h-1zM462 627h1v1h-1zM463 626h1v1h-1zM464 626h1v1h-1zM468 625h1v1h-1zM469 624h1v1h-1zM470 624h1v1h-1zM474 623h1v1h-1zM475 623h1v1h-1zM476 622h1v1h-1zM480 621h1v1h-1zM481 621h1v1h-1zM482 620h1v1h-1zM486 619h1v1h-1zM487 618h1v1h-1zM488 618h1v1h-1zM492 617h1v1h-1zM493 617h1v1h-1zM494 617h1v1h-1zM498 615h1v1h-1zM499 614h1v1h-1zM500 614h1v1h-1zM504 611h1v1h-1zM505 611h1v1h-1zM506 611h1v1h-1zM510 612h1v1h-1zM511 612h1v1h-1zM512 612h1v1h-1zM516 614h1v1h-1zM517 615h1v1h-1zM518 615h1v1h-1zM522 617h1v1h-1zM523 618h1v1h-1zM524 619h1v1h-1zM528 621h1v1h-1zM529 622h1v1h-1zM530 623h1v1h-1zM534 626h1v1h-1zM535 627h1v1h-1zM536 628h1v1h-1zM539 632h1v1h-1zM540 633h1v1h-1zM541 634h1v1h-1zM544 638h1v1h-1zM545 639h1v1h-1zM546 640h1v1h-1zM549 644h1v1h-1zM550 645h1v1h-1zM550 646h1v1h-1zM554 650h1v1h-1zM554 651h1v1h-1zM555 652h1v1h-1zM558 656h1v1h-1zM559 657h1v1h-1zM560 658h1v1h-1zM563 662h1v1h-1zM564 663h1v1h-1zM564 664h1v1h-1zM567 668h1v1h-1zM568 669h1v1h-1zM569 670h1v1h-1zM572 674h1v1h-1zM572 675h1v1h-1zM573 676h1v1h-1zM576 680h1v1h-1zM577 681h1v1h-1zM578 682h1v1h-1zM581 686h1v1h-1zM582 687h1v1h-1zM583 688h1v1h-1zM587 691h1v1h-1zM588 692h1v1h-1zM589 692h1v1h-1zM593 694h1v1h-1zM594 694h1v1h-1zM595 694h1v1h-1zM599 695h1v1h-1zM600 695h1v1h-1zM601 695h1v1h-1zM605 694h1v1h-1zM606 694h1v1h-1zM607 694h1v1h-1zM611 693h1v1h-1zM612 693h1v1h-1zM613 692h1v1h-1zM617 691h1v1h-1zM618 691h1v1h-1zM619 691h1v1h-1zM623 690h1v1h-1zM624 690h1v1h-1zM625 690h1v1h-1zM629 689h1v1h-1zM630 689h1v1h-1zM631 688h1v1h-1zM635 688h1v1h-1zM636 688h1v1h-1zM637 687h1v1h-1zM641 687h1v1h-1zM642 687h1v1h-1zM643 687h1v1h-1zM647 687h1v1h-1zM648 687h1v1h-1zM649 686h1v1h-1zM653 686h1v1h-1zM654 686h1v1h-1zM655 686h1v1h-1zM659 686h1v1h-1zM660 686h1v1h-1zM661 686h1v1h-1zM665 686h1v1h-1zM666 686h1v1h-1zM667 686h1v1h-1zM671 686h1v1h-1zM672 686h1v1h-1zM673 686h1v1h-1zM677 688h1v1h-1zM678 688h1v1h-1zM679 689h1v1h-1zM683 691h1v1h-1zM684 691h1v1h-1zM685 692h1v1h-1zM689 694h1v1h-1zM690 695h1v1h-1zM691 696h1v1h-1zM695 699h1v1h-1zM696 700h1v1h-1zM697 701h1v1h-1zM701 703h1v1h-1zM702 704h1v1h-1zM703 704h1v1h-1zM707 708h1v1h-1zM708 709h1v1h-1zM709 709h1v1h-1zM713 713h1v1h-1zM714 713h1v1h-1zM715 714h1v1h-1zM719 716h1v1h-1zM720 717h1v1h-1zM721 718h1v1h-1zM725 721h1v1h-1zM726 722h1v1h-1zM727 722h1v1h-1zM731 726h1v1h-1zM732 727h1v1h-1zM733 728h1v1h-1zM737 732h1v1h-1zM738 733h1v1h-1zM739 733h1v1h-1zM743 736h1v1h-1zM744 737h1v1h-1zM745 738h1v1h-1zM749 740h1v1h-1zM750 740h1v1h-1zM751 741h1v1h-1zM755 741h1v1h-1zM756 742h1v1h-1zM757 742h1v1h-1zM761 742h1v1h-1zM762 742h1v1h-1zM763 742h1v1h-1zM767 742h1v1h-1zM768 742h1v1h-1zM769 742h1v1h-1zM773 740h1v1h-1zM774 739h1v1h-1zM775 739h1v1h-1zM779 737h1v1h-1zM780 736h1v1h-1zM781 736h1v1h-1zM785 734h1v1h-1zM786 733h1v1h-1zM787 733h1v1h-1zM791 731h1v1h-1zM792 731h1v1h-1zM793 731h1v1h-1zM797 729h1v1h-1zM798 728h1v1h-1zM799 728h1v1h-1zM803 727h1v1h-1zM804 727h1v1h-1zM805 726h1v1h-1zM809 726h1v1h-1zM810 726h1v1h-1zM811 726h1v1h-1zM815 726h1v1h-1zM816 726h1v1h-1zM817 726h1v1h-1zM821 726h1v1h-1zM822 726h1v1h-1zM823 726h1v1h-1zM827 726h1v1h-1zM828 726h1v1h-1zM829 726h1v1h-1zM833 726h1v1h-1zM834 726h1v1h-1zM835 726h1v1h-1zM839 727h1v1h-1zM840 727h1v1h-1zM841 727h1v1h-1zM845 727h1v1h-1zM846 727h1v1h-1zM847 727h1v1h-1zM851 728h1v1h-1zM852 728h1v1h-1zM853 728h1v1h-1zM857 728h1v1h-1zM858 728h1v1h-1zM859 728h1v1h-1zM863 727h1v1h-1zM864 727h1v1h-1zM865 727h1v1h-1zM869 725h1v1h-1zM870 725h1v1h-1zM871 724h1v1h-1zM875 722h1v1h-1zM876 721h1v1h-1zM877 720h1v1h-1zM881 717h1v1h-1zM882 717h1v1h-1zM883 716h1v1h-1zM887 713h1v1h-1zM888 712h1v1h-1zM889 711h1v1h-1zM893 708h1v1h-1zM894 708h1v1h-1zM895 707h1v1h-1zM899 704h1v1h-1zM900 703h1v1h-1zM901 702h1v1h-1zM905 699h1v1h-1zM906 698h1v1h-1zM907 697h1v1h-1zM911 694h1v1h-1zM912 693h1v1h-1zM913 692h1v1h-1zM917 690h1v1h-1zM918 689h1v1h-1zM919 689h1v1h-1zM923 686h1v1h-1zM924 686h1v1h-1zM925 685h1v1h-1zM929 682h1v1h-1zM930 681h1v1h-1zM931 680h1v1h-1zM935 677h1v1h-1zM936 676h1v1h-1zM937 675h1v1h-1zM941 673h1v1h-1zM942 672h1v1h-1zM943 672h1v1h-1zM947 669h1v1h-1zM948 669h1v1h-1zM949 668h1v1h-1zM953 666h1v1h-1zM954 665h1v1h-1zM955 665h1v1h-1zM959 663h1v1h-1zM960 663h1v1h-1zM961 663h1v1h-1zM965 661h1v1h-1zM966 661h1v1h-1zM967 660h1v1h-1zM971 659h1v1h-1zM972 659h1v1h-1zM973 659h1v1h-1zM977 658h1v1h-1zM978 658h1v1h-1zM979 658h1v1h-1zM983 658h1v1h-1zM984 658h1v1h-1zM985 658h1v1h-1zM989 659h1v1h-1zM990 659h1v1h-1zM991 659h1v1h-1zM995 659h1v1h-1zM996 660h1v1h-1zM997 660h1v1h-1zM1001 660h1v1h-1zM1002 661h1v1h-1zM1003 661h1v1h-1zM1007 662h1v1h-1zM1008 662h1v1h-1zM1009 662h1v1h-1zM1013 664h1v1h-1zM1014 664h1v1h-1zM1015 665h1v1h-1zM1019 667h1v1h-1zM1020 668h1v1h-1zM1021 668h1v1h-1zM1025 670h1v1h-1zM1026 671h1v1h-1zM1027 671h1v1h-1zM1031 672h1v1h-1zM1032 672h1v1h-1zM1033 672h1v1h-1zM1037 674h1v1h-1zM1038 674h1v1h-1zM1039 675h1v1h-1zM1043 676h1v1h-1zM1044 677h1v1h-1zM1045 677h1v1h-1zM1049 678h1v1h-1zM1050 679h1v1h-1zM1051 679h1v1h-1zM1055 680h1v1h-1zM1056 680h1v1h-1zM1057 680h1v1h-1zM1061 681h1v1h-1zM1062 681h1v1h-1zM1063 681h1v1h-1zM1067 681h1v1h-1zM1068 682h1v1h-1zM1069 682h1v1h-1zM1073 682h1v1h-1zM1074 682h1v1h-1zM1075 682h1v1h-1zM1079 682h1v1h-1zM1080 682h1v1h-1zM1081 682h1v1h-1zM1085 681h1v1h-1zM1086 681h1v1h-1zM1087 681h1v1h-1zM1091 680h1v1h-1zM1092 680h1v1h-1zM1093 680h1v1h-1zM1097 679h1v1h-1zM1098 679h1v1h-1zM1099 678h1v1h-1zM1103 677h1v1h-1zM1104 677h1v1h-1zM1105 677h1v1h-1zM1109 676h1v1h-1zM1110 676h1v1h-1zM1111 675h1v1h-1zM1115 674h1v1h-1zM1116 674h1v1h-1zM1117 673h1v1h-1zM1121 672h1v1h-1zM1122 672h1v1h-1zM1123 671h1v1h-1zM1127 670h1v1h-1zM1128 670h1v1h-1zM1129 670h1v1h-1zM1133 668h1v1h-1zM1134 668h1v1h-1zM1135 667h1v1h-1zM1139 666h1v1h-1zM1140 666h1v1h-1zM1141 666h1v1h-1zM1145 665h1v1h-1zM1146 665h1v1h-1zM1147 664h1v1h-1zM1151 663h1v1h-1zM1152 663h1v1h-1zM1153 663h1v1h-1zM1157 662h1v1h-1zM1158 662h1v1h-1zM1159 662h1v1h-1zM1163 661h1v1h-1zM1164 661h1v1h-1zM1165 661h1v1h-1zM1169 660h1v1h-1zM1170 660h1v1h-1zM1171 660h1v1h-1zM1175 659h1v1h-1zM1176 659h1v1h-1zM1177 659h1v1h-1zM1181 659h1v1h-1zM1182 659h1v1h-1zM1183 659h1v1h-1zM1187 659h1v1h-1zM1188 659h1v1h-1zM1189 659h1v1h-1zM1193 659h1v1h-1zM1194 660h1v1h-1zM1195 660h1v1h-1zM1199 661h1v1h-1zM1200 661h1v1h-1zM1201 661h1v1h-1zM1205 662h1v1h-1zM1206 663h1v1h-1zM1207 663h1v1h-1zM1211 664h1v1h-1zM1212 665h1v1h-1zM1213 665h1v1h-1zM1217 666h1v1h-1zM1218 667h1v1h-1zM1219 667h1v1h-1zM1223 669h1v1h-1zM1224 669h1v1h-1zM1225 670h1v1h-1zM1229 672h1v1h-1zM1230 672h1v1h-1zM1231 673h1v1h-1zM1235 674h1v1h-1zM1236 675h1v1h-1zM1237 675h1v1h-1zM1241 676h1v1h-1zM1242 677h1v1h-1zM1243 677h1v1h-1zM1247 679h1v1h-1zM1248 679h1v1h-1zM1249 679h1v1h-1zM1253 680h1v1h-1zM1254 681h1v1h-1zM1255 681h1v1h-1zM1259 681h1v1h-1zM1260 681h1v1h-1zM1261 681h1v1h-1zM1265 681h1v1h-1zM1266 681h1v1h-1zM1267 681h1v1h-1zM1271 680h1v1h-1zM1272 680h1v1h-1zM1273 680h1v1h-1zM1277 679h1v1h-1zM1278 679h1v1h-1zM1279 679h1v1h-1zM1283 679h1v1h-1zM1284 678h1v1h-1zM1285 678h1v1h-1zM1289 678h1v1h-1zM1290 677h1v1h-1zM1291 677h1v1h-1zM1295 676h1v1h-1zM1296 676h1v1h-1zM1297 675h1v1h-1zM1301 674h1v1h-1zM1302 674h1v1h-1zM1303 673h1v1h-1zM1307 672h1v1h-1zM1308 672h1v1h-1zM1309 672h1v1h-1zM1313 671h1v1h-1zM1314 671h1v1h-1zM1315 670h1v1h-1zM1319 669h1v1h-1zM1320 669h1v1h-1zM1321 669h1v1h-1zM1325 668h1v1h-1zM1326 668h1v1h-1zM1327 667h1v1h-1zM1331 666h1v1h-1zM1332 666h1v1h-1zM1333 666h1v1h-1zM1337 665h1v1h-1zM1338 665h1v1h-1zM1339 664h1v1h-1zM1343 663h1v1h-1zM1344 663h1v1h-1zM1345 663h1v1h-1zM1349 662h1v1h-1zM1350 662h1v1h-1zM1351 661h1v1h-1zM1355 661h1v1h-1zM1356 661h1v1h-1zM1357 660h1v1h-1zM1361 660h1v1h-1zM1362 659h1v1h-1zM1363 659h1v1h-1zM1367 657h1v1h-1zM1368 656h1v1h-1zM1369 655h1v1h-1zM1373 653h1v1h-1zM1374 652h1v1h-1zM1375 652h1v1h-1zM1379 650h1v1h-1zM1380 649h1v1h-1zM1381 649h1v1h-1zM1385 647h1v1h-1zM1386 646h1v1h-1zM1387 646h1v1h-1zM1391 644h1v1h-1zM1392 644h1v1h-1zM1393 644h1v1h-1zM1397 642h1v1h-1zM1398 642h1v1h-1zM1399 641h1v1h-1z"/>
<path fill="#1e90ff" d="M495 829h10v1h-10zM493 830h2v1h-2zM504 830h1v3h-1zM490 831h3v1h-3zM485 832h5v1h-5zM432 833h1v1h-1zM480 833h5v1h-5zM505 833h1v6h-1zM431 834h1v1h-1zM433 834h2v1h-2zM479 834h1v1h-1zM430 835h1v1h-1zM435 835h1v1h-1zM478 835h1v1h-1zM429 836h1v1h-1zM436 836h2v1h-2zM477 836h1v1h-1zM0 837h1v2h-1zM428 837h1v2h-1zM438 837h2v1h-2zM476 837h1v1h-1zM440 838h1v1h-1zM475 838h1v1h-1zM1 839h1v2h-1zM427 839h1v1h-1zM441 839h2v1h-2zM474 839h1v1h-1zM506 839h1v7h-1zM426 840h1v1h-1zM443 840h2v1h-2zM473 840h1v1h-1zM2 841h1v2h-1zM425 841h1v1h-1zM445 841h2v1h-2zM472 841h1v1h-1zM328 842h2v1h-2zM415 842h10v1h-10zM447 842h2v1h-2zM471 842h1v1h-1zM3 843h1v2h-1zM327 843h1v1h-1zM330 843h2v1h-2zM411 843h4v1h-4zM448 843h1v1h-1zM470 843h1v1h-1zM326 844h1v1h-1zM332 844h3v1h-3zM408 844h3v1h-3zM449 844h1v3h-1zM469 844h1v1h-1zM1375 844h2v1h-2zM4 845h1v2h-1zM325 845h1v1h-1zM335 845h2v1h-2zM407 845h1v1h-1zM468 845h1v1h-1zM1373 845h2v1h-2zM1377 845h1v1h-1zM323 846h2v1h-2zM336 846h1v1h-1zM406 846h1v2h-1zM467 846h1v1h-1zM507 846h1v6h-1zM1370 846h3v1h-3zM1378 846h1v1h-1zM5 847h1v2h-1zM88 847h1v1h-1zM322 847h1v1h-1zM337 847h1v3h-1zM450 847h1v3h-1zM466 847h1v1h-1zM1359 847h11v1h-11zM1379 847h1v1h-1zM87 848h1v1h-1zM89 848h1v1h-1zM296 848h4v1h-4zM309 848h7v1h-7zM321 848h1v1h-1zM405 848h1v1h-1zM465 848h1v1h-1zM1357 848h2v1h-2zM1380 848h2v1h-2zM6 849h1v2h-1zM16 849h1v1h-1zM86 849h1v1h-1zM90 849h2v1h-2zM295 849h1v1h-1zM300 849h9v1h-9zM316 849h5v1h-5zM404 849h1v1h-1zM464 849h1v2h-1zM1354 849h3v1h-3zM1382 849h1v1h-1zM1391 849h2v1h-2zM14 850h2v1h-2zM17 850h1v1h-1zM85 850h1v1h-1zM92 850h1v1h-1zM294 850h1v1h-1zM338 850h1v3h-1zM403 850h1v1h-1zM451 850h1v3h-1zM1352 850h2v1h-2zM1383 850h1v1h-1zM1387 850h4v1h-4zM1393 850h2v1h-2zM7 851h1v2h-1zM13 851h1v1h-1zM18 851h1v1h-1zM83 851h2v1h-2zM93 851h1v1h-1zM119 851h2v1h-2zM293 851h1v1h-1zM402 851h1v2h-1zM463 851h1v2h-1zM1351 851h1v2h-1zM1384 851h3v1h-3zM1395 851h2v1h-2zM11 852h2v1h-2zM19 852h1v1h-1zM82 852h1v1h-1zM94 852h2v1h-2zM115 852h4v1h-4zM120 852h1v1h-1zM292 852h1v1h-1zM508 852h1v7h-1zM1397 852h2v1h-2zM8 853h3v1h-3zM20 853h1v1h-1zM81 853h1v1h-1zM96 853h1v1h-1zM112 853h3v1h-3zM121 853h1v2h-1zM291 853h1v1h-1zM339 853h1v3h-1zM401 853h1v1h-1zM452 853h1v3h-1zM462 853h1v2h-1zM1080 853h1v2h-1zM1350 853h1v2h-1zM1399 853h2v1h-2zM8 854h1v1h-1zM21 854h1v1h-1zM79 854h2v1h-2zM97 854h1v1h-1zM111 854h1v1h-1zM290 854h1v1h-1zM400 854h1v1h-1zM1081 854h1v1h-1zM22 855h1v1h-1zM75 855h4v1h-4zM98 855h1v1h-1zM110 855h1v1h-1zM122 855h1v3h-1zM289 855h1v1h-1zM399 855h1v1h-1zM461 855h1v2h-1zM919 855h21v1h-21zM949 855h4v1h-4zM1079 855h1v3h-1zM1082 855h2v1h-2zM1128 855h1v2h-1zM1349 855h1v2h-1zM23 856h1v1h-1zM29 856h7v1h-7zM55 856h3v1h-3zM71 856h4v1h-4zM99 856h1v1h-1zM109 856h1v1h-1zM288 856h1v2h-1zM340 856h1v3h-1zM398 856h1v2h-1zM453 856h1v3h-1zM872 856h9v1h-9zM917 856h2v1h-2zM940 856h9v1h-9zM953 856h1v1h-1zM1084 856h1v1h-1zM1129 856h1v1h-1zM24 857h5v1h-5zM36 857h6v1h-6zM53 857h2v1h-2zM58 857h2v1h-2zM69 857h2v1h-2zM100 857h2v1h-2zM107 857h2v1h-2zM184 857h1v1h-1zM460 857h1v2h-1zM568 857h1v2h-1zM870 857h2v1h-2zM881 857h2v1h-2zM914 857h3v1h-3zM954 857h1v1h-1zM1085 857h1v1h-1zM1127 857h1v2h-1zM1130 857h1v1h-1zM1320 857h10v1h-10zM1348 857h1v1h-1zM42 858h4v1h-4zM50 858h3v1h-3zM60 858h3v1h-3zM66 858h3v1h-3zM102 858h1v1h-1zM106 858h1v1h-1zM123 858h1v2h-1zM183 858h1v1h-1zM185 858h2v1h-2zM287 858h1v4h-1zM397 858h1v1h-1zM569 858h2v1h-2zM605 858h7v1h-7zM868 858h2v1h-2zM883 858h1v1h-1zM895 858h2v1h-2zM912 858h2v1h-2zM955 858h1v1h-1zM1078 858h1v3h-1zM1086 858h2v1h-2zM1131 858h1v1h-1zM1319 858h1v2h-1zM1330 858h4v1h-4zM1347 858h1v2h-1zM46 859h4v1h-4zM63 859h3v1h-3zM103 859h1v1h-1zM105 859h1v1h-1zM151 859h2v1h-2zM182 859h1v1h-1zM187 859h1v1h-1zM341 859h1v3h-1zM396 859h1v1h-1zM454 859h1v3h-1zM459 859h1v2h-1zM509 859h1v6h-1zM567 859h1v2h-1zM571 859h2v1h-2zM600 859h5v1h-5zM612 859h5v1h-5zM736 859h1v3h-1zM866 859h2v1h-2zM884 859h2v1h-2zM893 859h2v1h-2zM897 859h2v1h-2zM910 859h2v1h-2zM956 859h1v1h-1zM1088 859h2v1h-2zM1126 859h1v2h-1zM1132 859h2v1h-2zM1143 859h2v1h-2zM1176 859h1v2h-1zM1334 859h3v1h-3zM104 860h1v1h-1zM124 860h1v3h-1zM147 860h4v1h-4zM153 860h2v1h-2zM181 860h1v1h-1zM188 860h2v1h-2zM352 860h4v1h-4zM395 860h1v1h-1zM573 860h2v1h-2zM599 860h1v1h-1zM617 860h1v2h-1zM737 860h1v1h-1zM863 860h3v1h-3zM886 860h2v1h-2zM890 860h3v1h-3zM899 860h1v1h-1zM909 860h1v1h-1zM957 860h1v1h-1zM1090 860h2v1h-2zM1134 860h1v1h-1zM1141 860h2v1h-2zM1145 860h2v1h-2zM1174 860h2v1h-2zM1318 860h1v2h-1zM1337 860h2v1h-2zM1346 860h1v2h-1zM144 861h3v1h-3zM155 861h1v1h-1zM180 861h1v1h-1zM190 861h2v1h-2zM197 861h4v1h-4zM351 861h1v1h-1zM356 861h8v1h-8zM394 861h1v2h-1zM458 861h1v2h-1zM566 861h1v2h-1zM575 861h2v1h-2zM598 861h1v1h-1zM738 861h1v2h-1zM760 861h2v1h-2zM848 861h4v1h-4zM859 861h4v1h-4zM888 861h2v1h-2zM900 861h2v1h-2zM907 861h2v1h-2zM958 861h1v1h-1zM1077 861h1v3h-1zM1092 861h3v1h-3zM1125 861h1v2h-1zM1135 861h1v1h-1zM1138 861h3v1h-3zM1147 861h1v1h-1zM1159 861h3v1h-3zM1172 861h2v1h-2zM1177 861h1v2h-1zM1339 861h1v1h-1zM143 862h1v2h-1zM156 862h2v1h-2zM179 862h1v1h-1zM192 862h5v1h-5zM201 862h1v1h-1zM286 862h1v4h-1zM342 862h1v3h-1zM350 862h1v1h-1zM364 862h6v1h-6zM455 862h1v3h-1zM577 862h2v1h-2zM597 862h1v1h-1zM618 862h1v2h-1zM735 862h1v4h-1zM759 862h1v1h-1zM762 862h2v1h-2zM775 862h10v1h-10zM847 862h1v2h-1zM852 862h7v1h-7zM902 862h2v1h-2zM905 862h2v1h-2zM959 862h1v1h-1zM1095 862h3v1h-3zM1136 862h2v1h-2zM1148 862h2v1h-2zM1157 862h2v1h-2zM1162 862h4v1h-4zM1170 862h2v1h-2zM1272 862h10v1h-10zM1317 862h1v1h-1zM1340 862h2v1h-2zM1345 862h1v2h-1zM125 863h1v2h-1zM158 863h2v1h-2zM178 863h1v1h-1zM202 863h1v1h-1zM349 863h1v1h-1zM370 863h2v1h-2zM383 863h5v1h-5zM393 863h1v1h-1zM457 863h1v2h-1zM565 863h1v2h-1zM579 863h1v1h-1zM596 863h1v1h-1zM739 863h1v1h-1zM758 863h1v1h-1zM764 863h3v1h-3zM771 863h4v1h-4zM784 863h1v1h-1zM904 863h1v1h-1zM960 863h1v1h-1zM1098 863h2v1h-2zM1124 863h1v2h-1zM1150 863h2v1h-2zM1154 863h3v1h-3zM1166 863h4v1h-4zM1178 863h1v3h-1zM1270 863h2v1h-2zM1282 863h4v1h-4zM1316 863h1v2h-1zM1342 863h2v1h-2zM142 864h1v2h-1zM160 864h12v1h-12zM177 864h1v1h-1zM203 864h1v1h-1zM348 864h1v2h-1zM372 864h3v1h-3zM379 864h4v1h-4zM388 864h5v1h-5zM580 864h2v1h-2zM595 864h1v1h-1zM619 864h1v2h-1zM740 864h1v1h-1zM757 864h1v1h-1zM767 864h4v1h-4zM785 864h1v2h-1zM846 864h1v1h-1zM961 864h1v1h-1zM1076 864h1v3h-1zM1100 864h3v1h-3zM1152 864h2v1h-2zM1269 864h1v1h-1zM1286 864h3v1h-3zM1344 864h1v1h-1zM126 865h1v3h-1zM172 865h5v1h-5zM204 865h1v2h-1zM343 865h1v3h-1zM375 865h4v1h-4zM456 865h1v2h-1zM510 865h1v7h-1zM564 865h1v2h-1zM582 865h2v1h-2zM594 865h1v1h-1zM741 865h1v1h-1zM756 865h1v1h-1zM845 865h1v2h-1zM962 865h1v2h-1zM1103 865h2v1h-2zM1123 865h1v2h-1zM1267 865h2v1h-2zM1289 865h1v1h-1zM1315 865h1v1h-1zM141 866h1v2h-1zM285 866h1v4h-1zM347 866h1v1h-1zM584 866h4v1h-4zM593 866h1v1h-1zM620 866h1v1h-1zM639 866h3v1h-3zM734 866h1v4h-1zM742 866h1v2h-1zM755 866h1v1h-1zM786 866h1v2h-1zM1105 866h1v1h-1zM1179 866h1v3h-1zM1240 866h2v1h-2zM1265 866h2v1h-2zM1290 866h2v1h-2zM1314 866h1v2h-1zM205 867h1v1h-1zM346 867h1v1h-1zM563 867h1v2h-1zM588 867h5v1h-5zM621 867h1v2h-1zM635 867h4v1h-4zM642 867h2v1h-2zM754 867h1v1h-1zM844 867h1v1h-1zM963 867h1v1h-1zM1075 867h1v3h-1zM1106 867h1v1h-1zM1122 867h1v2h-1zM1239 867h1v1h-1zM1242 867h4v1h-4zM1263 867h2v1h-2zM1292 867h1v1h-1zM127 868h1v2h-1zM140 868h1v1h-1zM206 868h1v1h-1zM344 868h2v1h-2zM632 868h3v1h-3zM644 868h3v1h-3zM743 868h1v1h-1zM753 868h1v1h-1zM787 868h1v2h-1zM843 868h1v2h-1zM964 868h1v1h-1zM1107 868h1v1h-1zM1238 868h1v2h-1zM1246 868h6v1h-6zM1259 868h4v1h-4zM1293 868h1v1h-1zM1313 868h1v2h-1zM139 869h1v2h-1zM207 869h1v1h-1zM344 869h1v1h-1zM562 869h1v2h-1zM622 869h1v2h-1zM630 869h2v1h-2zM647 869h3v1h-3zM744 869h9v1h-9zM965 869h1v1h-1zM1108 869h1v1h-1zM1121 869h1v2h-1zM1180 869h1v2h-1zM1252 869h7v1h-7zM1294 869h2v1h-2zM128 870h1v2h-1zM208 870h1v1h-1zM284 870h1v3h-1zM629 870h1v1h-1zM650 870h4v1h-4zM671 870h2v1h-2zM733 870h1v4h-1zM788 870h1v2h-1zM842 870h1v1h-1zM966 870h1v2h-1zM1074 870h1v3h-1zM1109 870h1v1h-1zM1237 870h1v1h-1zM1296 870h1v1h-1zM1312 870h1v1h-1zM138 871h1v2h-1zM209 871h1v2h-1zM561 871h1v2h-1zM623 871h1v2h-1zM627 871h2v1h-2zM654 871h6v1h-6zM667 871h4v1h-4zM673 871h1v2h-1zM832 871h2v1h-2zM841 871h1v2h-1zM1110 871h1v1h-1zM1119 871h2v1h-2zM1181 871h1v3h-1zM1236 871h1v1h-1zM1297 871h1v1h-1zM1311 871h1v1h-1zM129 872h2v1h-2zM511 872h1v6h-1zM625 872h2v1h-2zM660 872h7v1h-7zM789 872h1v2h-1zM831 872h1v1h-1zM834 872h4v1h-4zM967 872h1v1h-1zM1111 872h1v1h-1zM1115 872h4v1h-4zM1235 872h1v1h-1zM1298 872h1v1h-1zM1310 872h1v1h-1zM131 873h2v1h-2zM137 873h1v2h-1zM210 873h1v1h-1zM283 873h1v4h-1zM557 873h4v1h-4zM624 873h1v1h-1zM674 873h1v2h-1zM830 873h1v1h-1zM838 873h3v1h-3zM968 873h9v1h-9zM1073 873h1v3h-1zM1112 873h3v1h-3zM1234 873h1v2h-1zM1299 873h1v1h-1zM1309 873h1v1h-1zM133 874h2v1h-2zM211 874h1v1h-1zM552 874h5v1h-5zM732 874h1v5h-1zM790 874h1v2h-1zM829 874h1v1h-1zM977 874h1v1h-1zM1182 874h1v3h-1zM1300 874h1v2h-1zM1308 874h1v2h-1zM135 875h2v1h-2zM212 875h1v2h-1zM551 875h1v1h-1zM675 875h1v2h-1zM813 875h5v1h-5zM827 875h2v1h-2zM978 875h1v1h-1zM992 875h4v1h-4zM1063 875h3v1h-3zM1233 875h1v1h-1zM550 876h1v2h-1zM791 876h1v2h-1zM799 876h14v1h-14zM818 876h2v1h-2zM826 876h1v1h-1zM979 876h1v1h-1zM990 876h2v1h-2zM996 876h8v1h-8zM1059 876h4v1h-4zM1066 876h4v1h-4zM1072 876h1v2h-1zM1231 876h2v1h-2zM1301 876h1v1h-1zM1307 876h1v1h-1zM213 877h1v1h-1zM282 877h1v4h-1zM676 877h1v1h-1zM797 877h2v1h-2zM820 877h3v1h-3zM825 877h1v1h-1zM980 877h2v1h-2zM989 877h1v1h-1zM1004 877h5v1h-5zM1029 877h4v1h-4zM1053 877h6v1h-6zM1070 877h2v1h-2zM1183 877h1v2h-1zM1191 877h11v1h-11zM1227 877h4v1h-4zM1302 877h1v1h-1zM1306 877h1v1h-1zM214 878h1v1h-1zM512 878h1v4h-1zM549 878h1v1h-1zM677 878h1v2h-1zM792 878h1v2h-1zM794 878h3v1h-3zM823 878h2v1h-2zM982 878h1v1h-1zM987 878h2v1h-2zM1009 878h1v1h-1zM1024 878h5v1h-5zM1033 878h2v1h-2zM1048 878h5v1h-5zM1189 878h2v1h-2zM1202 878h2v1h-2zM1224 878h3v1h-3zM1303 878h1v1h-1zM1305 878h1v1h-1zM215 879h1v2h-1zM548 879h1v1h-1zM731 879h1v4h-1zM793 879h1v1h-1zM983 879h1v1h-1zM985 879h2v1h-2zM1010 879h1v1h-1zM1023 879h1v1h-1zM1035 879h1v1h-1zM1046 879h2v1h-2zM1184 879h1v2h-1zM1186 879h3v1h-3zM1204 879h3v1h-3zM1223 879h1v1h-1zM1304 879h1v1h-1zM547 880h1v1h-1zM678 880h1v2h-1zM984 880h1v1h-1zM1011 880h1v1h-1zM1021 880h2v1h-2zM1036 880h2v1h-2zM1044 880h2v1h-2zM1185 880h1v1h-1zM1207 880h2v1h-2zM1221 880h2v1h-2zM216 881h9v1h-9zM281 881h1v4h-1zM546 881h1v2h-1zM1012 881h2v1h-2zM1020 881h1v1h-1zM1038 881h2v1h-2zM1042 881h2v1h-2zM1209 881h2v1h-2zM1220 881h1v1h-1zM225 882h1v1h-1zM513 882h2v1h-2zM679 882h1v2h-1zM1014 882h1v1h-1zM1019 882h1v1h-1zM1040 882h2v1h-2zM1211 882h2v1h-2zM1219 882h1v1h-1zM226 883h2v1h-2zM515 883h2v1h-2zM535 883h5v1h-5zM545 883h1v1h-1zM730 883h1v4h-1zM1015 883h1v1h-1zM1017 883h2v1h-2zM1213 883h2v1h-2zM1217 883h2v1h-2zM228 884h1v1h-1zM517 884h2v1h-2zM533 884h2v1h-2zM540 884h5v1h-5zM680 884h1v1h-1zM1016 884h1v1h-1zM1215 884h2v1h-2zM229 885h1v1h-1zM272 885h4v1h-4zM280 885h1v2h-1zM519 885h5v1h-5zM530 885h3v1h-3zM681 885h2v1h-2zM230 886h2v1h-2zM270 886h2v1h-2zM276 886h4v1h-4zM524 886h6v1h-6zM683 886h1v1h-1zM232 887h4v1h-4zM268 887h2v1h-2zM684 887h2v1h-2zM704 887h2v1h-2zM729 887h1v4h-1zM236 888h8v1h-8zM266 888h2v1h-2zM686 888h2v1h-2zM702 888h2v1h-2zM706 888h2v1h-2zM244 889h22v1h-22zM688 889h2v1h-2zM700 889h2v1h-2zM708 889h3v1h-3zM690 890h4v1h-4zM698 890h2v1h-2zM711 890h5v1h-5zM694 891h4v1h-4zM716 891h6v1h-6zM728 891h1v3h-1zM722 892h4v1h-4zM726 893h2v1h-2z"/>
<path fill="#000" d="M0 29h1629v1h-1629z M0 582h1629v1h-1629z M0 584h1629v1h-1629z M0 767h1629v1h-1629z M0 769h1629v1h-1629z M0 929h1629v1h-1629z M1628 29h1v901h-1z"/>
<path fill="#fff" d="M0 583h1675v1h-1675z M0 768h1675v1h-1675z"/>
<path fill="#c0c0c0" d="M1411 30h9v1h-9zM1412 31h7v1h-7zM1413 32h5v1h-5zM1414 33h3v1h-3zM1415 34h1v1h-1z"/>
<path fill="#000" d="M0 930h1v3h-1zM64 930h1v3h-1zM128 930h1v3h-1zM192 930h1v3h-1zM256 930h1v3h-1zM320 930h1v3h-1zM384 930h1v3h-1zM448 930h1v3h-1zM512 930h1v3h-1zM576 930h1v3h-1zM640 930h1v3h-1zM704 930h1v3h-1zM768 930h1v3h-1zM832 930h1v3h-1zM896 930h1v3h-1zM960 930h1v3h-1zM1024 930h1v3h-1zM1088 930h1v3h-1zM1152 930h1v3h-1zM1216 930h1v3h-1zM1280 930h1v3h-1zM1344 930h1v3h-1z"/>
<path fill="#000" d="M1629 51h2v1h-2zM1629 84h2v1h-2zM1629 117h2v1h-2zM1629 150h2v1h-2zM1629 183h2v1h-2zM1629 216h2v1h-2zM1629 249h2v1h-2zM1629 282h2v1h-2zM1629 315h2v1h-2zM1629 348h2v1h-2zM1629 381h2v1h-2zM1629 414h2v1h-2zM1629 447h2v1h-2zM1629 480h2v1h-2zM1629 513h2v1h-2zM1629 546h2v1h-2zM1629 579h2v1h-2zM1629 586h2v1h-2zM1629 620h2v1h-2zM1629 766h2v1h-2zM1629 771h2v1h-2zM1629 802h2v1h-2zM1629 849h2v1h-2zM1629 905h2v1h-2z"/>
</svg>
<div class="t " style="left:1634.5px;top:47.1px;">30183.0</div>
<div class="t " style="left:1634.5px;top:80.1px;">29985.0</div>
<div class="t " style="left:1634.5px;top:113.1px;">29787.0</div>
<div class="t " style="left:1634.5px;top:146.1px;">29583.0</div>
<div class="t " style="left:1634.5px;top:179.1px;">29385.0</div>
<div class="t " style="left:1634.5px;top:212.1px;">29187.0</div>
<div class="t " style="left:1634.5px;top:245.1px;">28989.0</div>
<div class="t " style="left:1634.5px;top:278.1px;">28791.0</div>
<div class="t " style="left:1634.5px;top:311.1px;">28593.0</div>
<div class="t " style="left:1634.5px;top:344.1px;">28395.0</div>
<div class="t " style="left:1634.5px;top:377.1px;">28191.0</div>
<div class="t " style="left:1634.5px;top:410.1px;">27993.0</div>
<div class="t " style="left:1634.5px;top:443.1px;">27795.0</div>
<div class="t " style="left:1634.5px;top:476.1px;">27597.0</div>
<div class="t " style="left:1634.5px;top:509.1px;">27399.0</div>
<div class="t " style="left:1634.5px;top:542.1px;">27201.0</div>
<div class="t " style="left:1634.5px;top:575.1px;">27003.0</div>
<div class="t " style="left:1632px;top:587.2px;">74.91</div>
<div class="t " style="left:1632px;top:616.2px;">0.00</div>
<div class="t " style="left:1632px;top:756.2px;">-323.25</div>
<div class="t " style="left:1632px;top:772.4px;">100</div>
<div class="t " style="left:1632px;top:798.5px;">80</div>
<div class="t " style="left:1632px;top:845.4px;">50</div>
<div class="t " style="left:1632px;top:901.4px;">15</div>
<div class="t " style="left:1632px;top:918.7px;">0</div>
<div class="pl" style="top:471px;background:#ff0000"><span>27613.7</span></div>
<div class="pl" style="top:488px;background:#ff0000"><span>27510.8</span></div>
<div class="pl" style="top:504px;background:#32cd32"><span>27417.8</span></div>
<div class="pl" style="top:521px;background:#000"><span>27319.0</span></div>
<div class="pl" style="top:551px;background:#0000ff"><span>27134.8</span></div>
<div class="pl" style="top:568px;background:#0000ff"><span>27033.2</span></div>
<div class="t " style="left:-1.5px;top:934px;">17 Apr 2019</div>
<div class="t " style="left:63px;top:934px;">23 Apr 01:15</div>
<div class="t " style="left:127px;top:934px;">24 Apr 02:15</div>
<div class="t " style="left:191px;top:934px;">25 Apr 03:15</div>
<div class="t " style="left:255px;top:934px;">26 Apr 05:00</div>
<div class="t " style="left:319px;top:934px;">29 Apr 06:00</div>
<div class="t " style="left:383px;top:934px;">30 Apr 07:00</div>
<div class="t " style="left:447px;top:934px;letter-spacing:0.17px">2 May 08:00</div>
<div class="t " style="left:511px;top:934px;letter-spacing:0.17px">6 May 01:15</div>
<div class="t " style="left:575px;top:934px;letter-spacing:0.17px">7 May 02:15</div>
<div class="t " style="left:639px;top:934px;letter-spacing:0.17px">8 May 03:15</div>
<div class="t " style="left:703px;top:934px;letter-spacing:0.17px">9 May 05:00</div>
<div class="t " style="left:767px;top:934px;letter-spacing:0.17px">10 May 06:00</div>
<div class="t " style="left:831px;top:934px;letter-spacing:0.17px">14 May 07:00</div>
<div class="t " style="left:895px;top:934px;letter-spacing:0.17px">15 May 08:00</div>
<div class="t " style="left:959px;top:934px;letter-spacing:0.17px">17 May 01:15</div>
<div class="t " style="left:1023px;top:934px;letter-spacing:0.17px">20 May 02:15</div>
<div class="t " style="left:1087px;top:934px;letter-spacing:0.17px">21 May 03:15</div>
<div class="t " style="left:1151px;top:934px;letter-spacing:0.17px">22 May 05:00</div>
<div class="t " style="left:1215px;top:934px;letter-spacing:0.17px">23 May 06:00</div>
<div class="t " style="left:1279px;top:934px;letter-spacing:0.17px">24 May 07:00</div>
<div class="t " style="left:1343px;top:934px;letter-spacing:0.17px">27 May 08:00</div>
<svg width="12" height="8" style="position:absolute;left:2px;top:34px"><path d="M1 6.5h7.4L4.7 2z" fill="#000"/></svg>
<div class="t " style="left:15.5px;top:32.5px;">HK50-.H1</div>
<div class="t " style="left:62px;top:32.5px;word-spacing:0.93px">27352.0 27364.5 27298.0 27319.0</div>
<div class="t " style="left:4.2px;top:588.5px;letter-spacing:0.22px">MACD(12,26,9)</div>
<div class="t " style="left:73px;top:588.5px;">-21.69</div>
<div class="t " style="left:102.7px;top:588.5px;">-47.71</div>
<div class="t " style="left:4.2px;top:774px;letter-spacing:0.15px">RSI(14)</div>
<div class="t " style="left:39.3px;top:774px;">47.6644</div>
<div style="position:absolute;left:0;top:56px;width:1px;height:2px;background:#000"></div><div style="position:absolute;left:0;top:62px;width:1.3px;height:7px;background:#000"></div>
<div style="position:absolute;left:1px;top:47px;width:223px;height:68px;background:#fff"></div>
<div id="panel">
<div style="left:51px;top:0;width:117px;height:24px;background:#fff"></div>
<div class="box" style="left:0;width:109px"></div><div class="box" style="left:111px;width:108px"></div>
<div style="left:109px;top:24px;width:2px;height:40px;background:#fff"></div>
<div class="tab" style="left:0"></div><div class="tab" style="left:167px"></div>
<div class="tl" style="left:12.2px">SELL</div><div class="tl" style="left:179.9px;transform:scaleX(0.91)">BUY</div>
<div class="ul" style="left:4px;width:44px"></div><div class="ul" style="left:171px;width:44px"></div>
<div style="left:54px;top:0px;width:111px;height:22px;border:1px solid #a9adb6;background:#fff"></div>
<div style="left:55px;top:1px;width:21px;height:20px;background:linear-gradient(#f2f2f2,#e2e2e2);border-right:1px solid #a9adb6"></div>
<div style="left:143px;top:1px;width:21px;height:20px;background:linear-gradient(#f2f2f2,#e2e2e2);border-left:1px solid #a9adb6"></div>
<svg width="8" height="5" style="position:absolute;left:62px;top:9px"><path d="M0.3 0.5h5.4l-2.7 3.2z" fill="#000"/></svg>
<svg width="8" height="5" style="position:absolute;left:151px;top:8px"><path d="M0.3 3.8h5.4l-2.7-3.2z" fill="#000"/></svg>
<div style="left:100px;top:3px;width:40px;height:16px;font-size:12.6px;line-height:16px;text-align:right;color:#111">1.00</div>
<div class="sm" style="left:15.9px;top:45px">27317</div><div class="dot" style="left:55px;top:51.2px"></div><div class="bg" style="left:61.9px;top:29.3px">5</div>
<div class="sm" style="left:126.3px;top:45px">27333</div><div class="dot" style="left:166px;top:51.2px"></div><div class="bg" style="left:172.5px;top:29.3px">5</div>
</div>
<svg id="ovl" width="1675" height="952" viewBox="0 0 1675 952" style="position:absolute;left:0;top:0">
<polygon fill="#f7d716" points="731.2,269.3 1366.7,497.4 1364.5,503.5 1384.4,501.3 1370.4,487.0 1368.2,493.1 732.2,266.5"/>
<polygon fill="#f7d716" points="824.9,746.5 1395.0,666.2 1395.9,672.7 1412.0,661.8 1393.5,655.8 1394.4,662.3 824.5,743.9"/>
<rect x="1307" y="505" width="114" height="10" fill="#00ff00" shape-rendering="crispEdges"/>
<text x="854.9" y="546.7" font-size="32" font-weight="bold" letter-spacing="0.85" fill="#00a000" font-family="'Liberation Serif','Noto Serif CJK SC',serif">多空转折点</text>
<text x="854.2" y="546.1" font-size="32" font-weight="bold" letter-spacing="0.85" fill="#00ff00" stroke="#00e800" stroke-width="0.3" font-family="'Liberation Serif','Noto Serif CJK SC',serif">多空转折点</text>
</svg>
<div style="position:absolute;left:1018.5px;top:514px;font-size:32px;line-height:40px;font-weight:bold;color:#00ff00;white-space:nowrap;transform-origin:0 32px;transform:scale(1.006,1.045);text-shadow:0.7px 0.6px 0 #00a000">27417</div>
<div id="redge"></div><div id="bedge"></div>
</body></html>
